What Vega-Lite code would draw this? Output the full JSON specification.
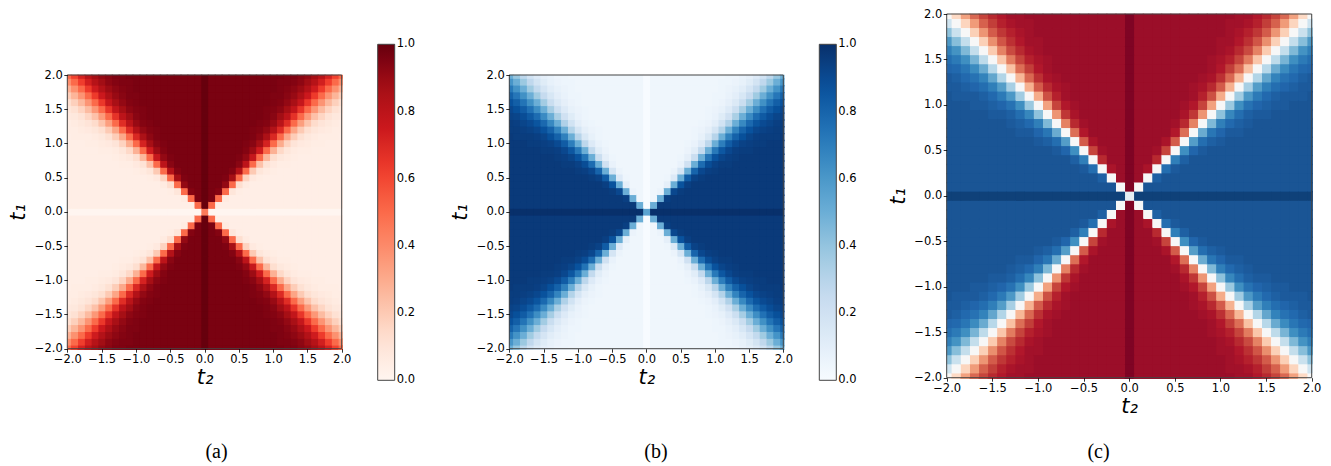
{
"$schema":"https://vega.github.io/schema/vega-lite/v6.json",
"width":1331,"height":466,"autosize":{"type":"none"},"padding":0,"background":"white",
"config":{"view":{"stroke":null},
"axis":{"grid":false,"domain":false,"labelFont":"DejaVu Sans","labelFontSize":11.5,"labelColor":"#000","tickColor":"#000","tickSize":3.5,"tickWidth":0.8,"labelPadding":1.5,"labelFlush":false,"labelOverlap":false,"labelBound":false,"titleFont":"DejaVu Sans","titleFontSize":21,"titleFontStyle":"italic","titleFontWeight":"normal","titleColor":"#000"},
"legend":{"labelFont":"DejaVu Sans","labelFontSize":11.5,"labelColor":"#000","gradientLength":336,"gradientThickness":17,"gradientStrokeColor":"#444","gradientStrokeWidth":1,"labelOffset":5,"padding":0,"labelOverlap":false}},
"data":{"values":[
{"x":-2,"y":2,"a":0.5,"b":0.5},{"x":-1.9,"y":2,"a":0.61,"b":0.39},{"x":-1.8,"y":2,"a":0.72,"b":0.28},{"x":-1.7,"y":2,"a":0.81,"b":0.19},{"x":-1.6,"y":2,"a":0.87,"b":0.13},{"x":-1.5,"y":2,"a":0.91,"b":0.09},{"x":-1.4,"y":2,"a":0.93,"b":0.07},{"x":-1.3,"y":2,"a":0.95,"b":0.05},{"x":-1.2,"y":2,"a":0.95,"b":0.05},{"x":-1.1,"y":2,"a":0.96,"b":0.04},{"x":-1,"y":2,"a":0.96,"b":0.04},{"x":-0.9,"y":2,"a":0.96,"b":0.04},{"x":-0.8,"y":2,"a":0.96,"b":0.04},{"x":-0.7,"y":2,"a":0.96,"b":0.04},{"x":-0.6,"y":2,"a":0.96,"b":0.04},{"x":-0.5,"y":2,"a":0.96,"b":0.04},{"x":-0.4,"y":2,"a":0.96,"b":0.04},{"x":-0.3,"y":2,"a":0.96,"b":0.04},{"x":-0.2,"y":2,"a":0.96,"b":0.04},{"x":-0.1,"y":2,"a":0.96,"b":0.04},{"x":0,"y":2,"a":1,"b":0},{"x":0.1,"y":2,"a":0.96,"b":0.04},{"x":0.2,"y":2,"a":0.96,"b":0.04},{"x":0.3,"y":2,"a":0.96,"b":0.04},{"x":0.4,"y":2,"a":0.96,"b":0.04},{"x":0.5,"y":2,"a":0.96,"b":0.04},{"x":0.6,"y":2,"a":0.96,"b":0.04},{"x":0.7,"y":2,"a":0.96,"b":0.04},{"x":0.8,"y":2,"a":0.96,"b":0.04},{"x":0.9,"y":2,"a":0.96,"b":0.04},{"x":1,"y":2,"a":0.96,"b":0.04},{"x":1.1,"y":2,"a":0.96,"b":0.04},{"x":1.2,"y":2,"a":0.95,"b":0.05},{"x":1.3,"y":2,"a":0.95,"b":0.05},{"x":1.4,"y":2,"a":0.93,"b":0.07},{"x":1.5,"y":2,"a":0.91,"b":0.09},{"x":1.6,"y":2,"a":0.87,"b":0.13},{"x":1.7,"y":2,"a":0.81,"b":0.19},{"x":1.8,"y":2,"a":0.72,"b":0.28},{"x":1.9,"y":2,"a":0.61,"b":0.39},{"x":2,"y":2,"a":0.5,"b":0.5},
{"x":-2,"y":1.9,"a":0.39,"b":0.61},{"x":-1.9,"y":1.9,"a":0.5,"b":0.5},{"x":-1.8,"y":1.9,"a":0.62,"b":0.38},{"x":-1.7,"y":1.9,"a":0.73,"b":0.27},{"x":-1.6,"y":1.9,"a":0.82,"b":0.18},{"x":-1.5,"y":1.9,"a":0.88,"b":0.12},{"x":-1.4,"y":1.9,"a":0.92,"b":0.08},{"x":-1.3,"y":1.9,"a":0.94,"b":0.06},{"x":-1.2,"y":1.9,"a":0.95,"b":0.05},{"x":-1.1,"y":1.9,"a":0.95,"b":0.05},{"x":-1,"y":1.9,"a":0.96,"b":0.04},{"x":-0.9,"y":1.9,"a":0.96,"b":0.04},{"x":-0.8,"y":1.9,"a":0.96,"b":0.04},{"x":-0.7,"y":1.9,"a":0.96,"b":0.04},{"x":-0.6,"y":1.9,"a":0.96,"b":0.04},{"x":-0.5,"y":1.9,"a":0.96,"b":0.04},{"x":-0.4,"y":1.9,"a":0.96,"b":0.04},{"x":-0.3,"y":1.9,"a":0.96,"b":0.04},{"x":-0.2,"y":1.9,"a":0.96,"b":0.04},{"x":-0.1,"y":1.9,"a":0.96,"b":0.04},{"x":0,"y":1.9,"a":1,"b":0},{"x":0.1,"y":1.9,"a":0.96,"b":0.04},{"x":0.2,"y":1.9,"a":0.96,"b":0.04},{"x":0.3,"y":1.9,"a":0.96,"b":0.04},{"x":0.4,"y":1.9,"a":0.96,"b":0.04},{"x":0.5,"y":1.9,"a":0.96,"b":0.04},{"x":0.6,"y":1.9,"a":0.96,"b":0.04},{"x":0.7,"y":1.9,"a":0.96,"b":0.04},{"x":0.8,"y":1.9,"a":0.96,"b":0.04},{"x":0.9,"y":1.9,"a":0.96,"b":0.04},{"x":1,"y":1.9,"a":0.96,"b":0.04},{"x":1.1,"y":1.9,"a":0.95,"b":0.05},{"x":1.2,"y":1.9,"a":0.95,"b":0.05},{"x":1.3,"y":1.9,"a":0.94,"b":0.06},{"x":1.4,"y":1.9,"a":0.92,"b":0.08},{"x":1.5,"y":1.9,"a":0.88,"b":0.12},{"x":1.6,"y":1.9,"a":0.82,"b":0.18},{"x":1.7,"y":1.9,"a":0.73,"b":0.27},{"x":1.8,"y":1.9,"a":0.62,"b":0.38},{"x":1.9,"y":1.9,"a":0.5,"b":0.5},{"x":2,"y":1.9,"a":0.39,"b":0.61},
{"x":-2,"y":1.8,"a":0.28,"b":0.72},{"x":-1.9,"y":1.8,"a":0.38,"b":0.62},{"x":-1.8,"y":1.8,"a":0.5,"b":0.5},{"x":-1.7,"y":1.8,"a":0.63,"b":0.37},{"x":-1.6,"y":1.8,"a":0.74,"b":0.26},{"x":-1.5,"y":1.8,"a":0.83,"b":0.17},{"x":-1.4,"y":1.8,"a":0.89,"b":0.11},{"x":-1.3,"y":1.8,"a":0.92,"b":0.08},{"x":-1.2,"y":1.8,"a":0.94,"b":0.06},{"x":-1.1,"y":1.8,"a":0.95,"b":0.05},{"x":-1,"y":1.8,"a":0.96,"b":0.04},{"x":-0.9,"y":1.8,"a":0.96,"b":0.04},{"x":-0.8,"y":1.8,"a":0.96,"b":0.04},{"x":-0.7,"y":1.8,"a":0.96,"b":0.04},{"x":-0.6,"y":1.8,"a":0.96,"b":0.04},{"x":-0.5,"y":1.8,"a":0.96,"b":0.04},{"x":-0.4,"y":1.8,"a":0.96,"b":0.04},{"x":-0.3,"y":1.8,"a":0.96,"b":0.04},{"x":-0.2,"y":1.8,"a":0.96,"b":0.04},{"x":-0.1,"y":1.8,"a":0.96,"b":0.04},{"x":0,"y":1.8,"a":1,"b":0},{"x":0.1,"y":1.8,"a":0.96,"b":0.04},{"x":0.2,"y":1.8,"a":0.96,"b":0.04},{"x":0.3,"y":1.8,"a":0.96,"b":0.04},{"x":0.4,"y":1.8,"a":0.96,"b":0.04},{"x":0.5,"y":1.8,"a":0.96,"b":0.04},{"x":0.6,"y":1.8,"a":0.96,"b":0.04},{"x":0.7,"y":1.8,"a":0.96,"b":0.04},{"x":0.8,"y":1.8,"a":0.96,"b":0.04},{"x":0.9,"y":1.8,"a":0.96,"b":0.04},{"x":1,"y":1.8,"a":0.96,"b":0.04},{"x":1.1,"y":1.8,"a":0.95,"b":0.05},{"x":1.2,"y":1.8,"a":0.94,"b":0.06},{"x":1.3,"y":1.8,"a":0.92,"b":0.08},{"x":1.4,"y":1.8,"a":0.89,"b":0.11},{"x":1.5,"y":1.8,"a":0.83,"b":0.17},{"x":1.6,"y":1.8,"a":0.74,"b":0.26},{"x":1.7,"y":1.8,"a":0.63,"b":0.37},{"x":1.8,"y":1.8,"a":0.5,"b":0.5},{"x":1.9,"y":1.8,"a":0.38,"b":0.62},{"x":2,"y":1.8,"a":0.28,"b":0.72},
{"x":-2,"y":1.7,"a":0.19,"b":0.81},{"x":-1.9,"y":1.7,"a":0.27,"b":0.73},{"x":-1.8,"y":1.7,"a":0.37,"b":0.63},{"x":-1.7,"y":1.7,"a":0.5,"b":0.5},{"x":-1.6,"y":1.7,"a":0.63,"b":0.37},{"x":-1.5,"y":1.7,"a":0.75,"b":0.25},{"x":-1.4,"y":1.7,"a":0.84,"b":0.16},{"x":-1.3,"y":1.7,"a":0.9,"b":0.1},{"x":-1.2,"y":1.7,"a":0.93,"b":0.07},{"x":-1.1,"y":1.7,"a":0.95,"b":0.05},{"x":-1,"y":1.7,"a":0.95,"b":0.05},{"x":-0.9,"y":1.7,"a":0.96,"b":0.04},{"x":-0.8,"y":1.7,"a":0.96,"b":0.04},{"x":-0.7,"y":1.7,"a":0.96,"b":0.04},{"x":-0.6,"y":1.7,"a":0.96,"b":0.04},{"x":-0.5,"y":1.7,"a":0.96,"b":0.04},{"x":-0.4,"y":1.7,"a":0.96,"b":0.04},{"x":-0.3,"y":1.7,"a":0.96,"b":0.04},{"x":-0.2,"y":1.7,"a":0.96,"b":0.04},{"x":-0.1,"y":1.7,"a":0.96,"b":0.04},{"x":0,"y":1.7,"a":1,"b":0},{"x":0.1,"y":1.7,"a":0.96,"b":0.04},{"x":0.2,"y":1.7,"a":0.96,"b":0.04},{"x":0.3,"y":1.7,"a":0.96,"b":0.04},{"x":0.4,"y":1.7,"a":0.96,"b":0.04},{"x":0.5,"y":1.7,"a":0.96,"b":0.04},{"x":0.6,"y":1.7,"a":0.96,"b":0.04},{"x":0.7,"y":1.7,"a":0.96,"b":0.04},{"x":0.8,"y":1.7,"a":0.96,"b":0.04},{"x":0.9,"y":1.7,"a":0.96,"b":0.04},{"x":1,"y":1.7,"a":0.95,"b":0.05},{"x":1.1,"y":1.7,"a":0.95,"b":0.05},{"x":1.2,"y":1.7,"a":0.93,"b":0.07},{"x":1.3,"y":1.7,"a":0.9,"b":0.1},{"x":1.4,"y":1.7,"a":0.84,"b":0.16},{"x":1.5,"y":1.7,"a":0.75,"b":0.25},{"x":1.6,"y":1.7,"a":0.63,"b":0.37},{"x":1.7,"y":1.7,"a":0.5,"b":0.5},{"x":1.8,"y":1.7,"a":0.37,"b":0.63},{"x":1.9,"y":1.7,"a":0.27,"b":0.73},{"x":2,"y":1.7,"a":0.19,"b":0.81},
{"x":-2,"y":1.6,"a":0.13,"b":0.87},{"x":-1.9,"y":1.6,"a":0.18,"b":0.82},{"x":-1.8,"y":1.6,"a":0.26,"b":0.74},{"x":-1.7,"y":1.6,"a":0.37,"b":0.63},{"x":-1.6,"y":1.6,"a":0.5,"b":0.5},{"x":-1.5,"y":1.6,"a":0.64,"b":0.36},{"x":-1.4,"y":1.6,"a":0.77,"b":0.23},{"x":-1.3,"y":1.6,"a":0.86,"b":0.14},{"x":-1.2,"y":1.6,"a":0.91,"b":0.09},{"x":-1.1,"y":1.6,"a":0.94,"b":0.06},{"x":-1,"y":1.6,"a":0.95,"b":0.05},{"x":-0.9,"y":1.6,"a":0.96,"b":0.04},{"x":-0.8,"y":1.6,"a":0.96,"b":0.04},{"x":-0.7,"y":1.6,"a":0.96,"b":0.04},{"x":-0.6,"y":1.6,"a":0.96,"b":0.04},{"x":-0.5,"y":1.6,"a":0.96,"b":0.04},{"x":-0.4,"y":1.6,"a":0.96,"b":0.04},{"x":-0.3,"y":1.6,"a":0.96,"b":0.04},{"x":-0.2,"y":1.6,"a":0.96,"b":0.04},{"x":-0.1,"y":1.6,"a":0.96,"b":0.04},{"x":0,"y":1.6,"a":1,"b":0},{"x":0.1,"y":1.6,"a":0.96,"b":0.04},{"x":0.2,"y":1.6,"a":0.96,"b":0.04},{"x":0.3,"y":1.6,"a":0.96,"b":0.04},{"x":0.4,"y":1.6,"a":0.96,"b":0.04},{"x":0.5,"y":1.6,"a":0.96,"b":0.04},{"x":0.6,"y":1.6,"a":0.96,"b":0.04},{"x":0.7,"y":1.6,"a":0.96,"b":0.04},{"x":0.8,"y":1.6,"a":0.96,"b":0.04},{"x":0.9,"y":1.6,"a":0.96,"b":0.04},{"x":1,"y":1.6,"a":0.95,"b":0.05},{"x":1.1,"y":1.6,"a":0.94,"b":0.06},{"x":1.2,"y":1.6,"a":0.91,"b":0.09},{"x":1.3,"y":1.6,"a":0.86,"b":0.14},{"x":1.4,"y":1.6,"a":0.77,"b":0.23},{"x":1.5,"y":1.6,"a":0.64,"b":0.36},{"x":1.6,"y":1.6,"a":0.5,"b":0.5},{"x":1.7,"y":1.6,"a":0.37,"b":0.63},{"x":1.8,"y":1.6,"a":0.26,"b":0.74},{"x":1.9,"y":1.6,"a":0.18,"b":0.82},{"x":2,"y":1.6,"a":0.13,"b":0.87},
{"x":-2,"y":1.5,"a":0.09,"b":0.91},{"x":-1.9,"y":1.5,"a":0.12,"b":0.88},{"x":-1.8,"y":1.5,"a":0.17,"b":0.83},{"x":-1.7,"y":1.5,"a":0.25,"b":0.75},{"x":-1.6,"y":1.5,"a":0.36,"b":0.64},{"x":-1.5,"y":1.5,"a":0.5,"b":0.5},{"x":-1.4,"y":1.5,"a":0.65,"b":0.35},{"x":-1.3,"y":1.5,"a":0.78,"b":0.22},{"x":-1.2,"y":1.5,"a":0.87,"b":0.13},{"x":-1.1,"y":1.5,"a":0.92,"b":0.08},{"x":-1,"y":1.5,"a":0.94,"b":0.06},{"x":-0.9,"y":1.5,"a":0.95,"b":0.05},{"x":-0.8,"y":1.5,"a":0.96,"b":0.04},{"x":-0.7,"y":1.5,"a":0.96,"b":0.04},{"x":-0.6,"y":1.5,"a":0.96,"b":0.04},{"x":-0.5,"y":1.5,"a":0.96,"b":0.04},{"x":-0.4,"y":1.5,"a":0.96,"b":0.04},{"x":-0.3,"y":1.5,"a":0.96,"b":0.04},{"x":-0.2,"y":1.5,"a":0.96,"b":0.04},{"x":-0.1,"y":1.5,"a":0.96,"b":0.04},{"x":0,"y":1.5,"a":1,"b":0},{"x":0.1,"y":1.5,"a":0.96,"b":0.04},{"x":0.2,"y":1.5,"a":0.96,"b":0.04},{"x":0.3,"y":1.5,"a":0.96,"b":0.04},{"x":0.4,"y":1.5,"a":0.96,"b":0.04},{"x":0.5,"y":1.5,"a":0.96,"b":0.04},{"x":0.6,"y":1.5,"a":0.96,"b":0.04},{"x":0.7,"y":1.5,"a":0.96,"b":0.04},{"x":0.8,"y":1.5,"a":0.96,"b":0.04},{"x":0.9,"y":1.5,"a":0.95,"b":0.05},{"x":1,"y":1.5,"a":0.94,"b":0.06},{"x":1.1,"y":1.5,"a":0.92,"b":0.08},{"x":1.2,"y":1.5,"a":0.87,"b":0.13},{"x":1.3,"y":1.5,"a":0.78,"b":0.22},{"x":1.4,"y":1.5,"a":0.65,"b":0.35},{"x":1.5,"y":1.5,"a":0.5,"b":0.5},{"x":1.6,"y":1.5,"a":0.36,"b":0.64},{"x":1.7,"y":1.5,"a":0.25,"b":0.75},{"x":1.8,"y":1.5,"a":0.17,"b":0.83},{"x":1.9,"y":1.5,"a":0.12,"b":0.88},{"x":2,"y":1.5,"a":0.09,"b":0.91},
{"x":-2,"y":1.4,"a":0.07,"b":0.93},{"x":-1.9,"y":1.4,"a":0.08,"b":0.92},{"x":-1.8,"y":1.4,"a":0.11,"b":0.89},{"x":-1.7,"y":1.4,"a":0.16,"b":0.84},{"x":-1.6,"y":1.4,"a":0.23,"b":0.77},{"x":-1.5,"y":1.4,"a":0.35,"b":0.65},{"x":-1.4,"y":1.4,"a":0.5,"b":0.5},{"x":-1.3,"y":1.4,"a":0.66,"b":0.34},{"x":-1.2,"y":1.4,"a":0.8,"b":0.2},{"x":-1.1,"y":1.4,"a":0.88,"b":0.12},{"x":-1,"y":1.4,"a":0.93,"b":0.07},{"x":-0.9,"y":1.4,"a":0.95,"b":0.05},{"x":-0.8,"y":1.4,"a":0.96,"b":0.04},{"x":-0.7,"y":1.4,"a":0.96,"b":0.04},{"x":-0.6,"y":1.4,"a":0.96,"b":0.04},{"x":-0.5,"y":1.4,"a":0.96,"b":0.04},{"x":-0.4,"y":1.4,"a":0.96,"b":0.04},{"x":-0.3,"y":1.4,"a":0.96,"b":0.04},{"x":-0.2,"y":1.4,"a":0.96,"b":0.04},{"x":-0.1,"y":1.4,"a":0.96,"b":0.04},{"x":0,"y":1.4,"a":1,"b":0},{"x":0.1,"y":1.4,"a":0.96,"b":0.04},{"x":0.2,"y":1.4,"a":0.96,"b":0.04},{"x":0.3,"y":1.4,"a":0.96,"b":0.04},{"x":0.4,"y":1.4,"a":0.96,"b":0.04},{"x":0.5,"y":1.4,"a":0.96,"b":0.04},{"x":0.6,"y":1.4,"a":0.96,"b":0.04},{"x":0.7,"y":1.4,"a":0.96,"b":0.04},{"x":0.8,"y":1.4,"a":0.96,"b":0.04},{"x":0.9,"y":1.4,"a":0.95,"b":0.05},{"x":1,"y":1.4,"a":0.93,"b":0.07},{"x":1.1,"y":1.4,"a":0.88,"b":0.12},{"x":1.2,"y":1.4,"a":0.8,"b":0.2},{"x":1.3,"y":1.4,"a":0.66,"b":0.34},{"x":1.4,"y":1.4,"a":0.5,"b":0.5},{"x":1.5,"y":1.4,"a":0.35,"b":0.65},{"x":1.6,"y":1.4,"a":0.23,"b":0.77},{"x":1.7,"y":1.4,"a":0.16,"b":0.84},{"x":1.8,"y":1.4,"a":0.11,"b":0.89},{"x":1.9,"y":1.4,"a":0.08,"b":0.92},{"x":2,"y":1.4,"a":0.07,"b":0.93},
{"x":-2,"y":1.3,"a":0.05,"b":0.95},{"x":-1.9,"y":1.3,"a":0.06,"b":0.94},{"x":-1.8,"y":1.3,"a":0.08,"b":0.92},{"x":-1.7,"y":1.3,"a":0.1,"b":0.9},{"x":-1.6,"y":1.3,"a":0.14,"b":0.86},{"x":-1.5,"y":1.3,"a":0.22,"b":0.78},{"x":-1.4,"y":1.3,"a":0.34,"b":0.66},{"x":-1.3,"y":1.3,"a":0.5,"b":0.5},{"x":-1.2,"y":1.3,"a":0.68,"b":0.32},{"x":-1.1,"y":1.3,"a":0.81,"b":0.19},{"x":-1,"y":1.3,"a":0.9,"b":0.1},{"x":-0.9,"y":1.3,"a":0.94,"b":0.06},{"x":-0.8,"y":1.3,"a":0.95,"b":0.05},{"x":-0.7,"y":1.3,"a":0.96,"b":0.04},{"x":-0.6,"y":1.3,"a":0.96,"b":0.04},{"x":-0.5,"y":1.3,"a":0.96,"b":0.04},{"x":-0.4,"y":1.3,"a":0.96,"b":0.04},{"x":-0.3,"y":1.3,"a":0.96,"b":0.04},{"x":-0.2,"y":1.3,"a":0.96,"b":0.04},{"x":-0.1,"y":1.3,"a":0.96,"b":0.04},{"x":0,"y":1.3,"a":1,"b":0},{"x":0.1,"y":1.3,"a":0.96,"b":0.04},{"x":0.2,"y":1.3,"a":0.96,"b":0.04},{"x":0.3,"y":1.3,"a":0.96,"b":0.04},{"x":0.4,"y":1.3,"a":0.96,"b":0.04},{"x":0.5,"y":1.3,"a":0.96,"b":0.04},{"x":0.6,"y":1.3,"a":0.96,"b":0.04},{"x":0.7,"y":1.3,"a":0.96,"b":0.04},{"x":0.8,"y":1.3,"a":0.95,"b":0.05},{"x":0.9,"y":1.3,"a":0.94,"b":0.06},{"x":1,"y":1.3,"a":0.9,"b":0.1},{"x":1.1,"y":1.3,"a":0.81,"b":0.19},{"x":1.2,"y":1.3,"a":0.68,"b":0.32},{"x":1.3,"y":1.3,"a":0.5,"b":0.5},{"x":1.4,"y":1.3,"a":0.34,"b":0.66},{"x":1.5,"y":1.3,"a":0.22,"b":0.78},{"x":1.6,"y":1.3,"a":0.14,"b":0.86},{"x":1.7,"y":1.3,"a":0.1,"b":0.9},{"x":1.8,"y":1.3,"a":0.08,"b":0.92},{"x":1.9,"y":1.3,"a":0.06,"b":0.94},{"x":2,"y":1.3,"a":0.05,"b":0.95},
{"x":-2,"y":1.2,"a":0.05,"b":0.95},{"x":-1.9,"y":1.2,"a":0.05,"b":0.95},{"x":-1.8,"y":1.2,"a":0.06,"b":0.94},{"x":-1.7,"y":1.2,"a":0.07,"b":0.93},{"x":-1.6,"y":1.2,"a":0.09,"b":0.91},{"x":-1.5,"y":1.2,"a":0.13,"b":0.87},{"x":-1.4,"y":1.2,"a":0.2,"b":0.8},{"x":-1.3,"y":1.2,"a":0.32,"b":0.68},{"x":-1.2,"y":1.2,"a":0.5,"b":0.5},{"x":-1.1,"y":1.2,"a":0.69,"b":0.31},{"x":-1,"y":1.2,"a":0.83,"b":0.17},{"x":-0.9,"y":1.2,"a":0.91,"b":0.09},{"x":-0.8,"y":1.2,"a":0.94,"b":0.06},{"x":-0.7,"y":1.2,"a":0.95,"b":0.05},{"x":-0.6,"y":1.2,"a":0.96,"b":0.04},{"x":-0.5,"y":1.2,"a":0.96,"b":0.04},{"x":-0.4,"y":1.2,"a":0.96,"b":0.04},{"x":-0.3,"y":1.2,"a":0.96,"b":0.04},{"x":-0.2,"y":1.2,"a":0.96,"b":0.04},{"x":-0.1,"y":1.2,"a":0.96,"b":0.04},{"x":0,"y":1.2,"a":1,"b":0},{"x":0.1,"y":1.2,"a":0.96,"b":0.04},{"x":0.2,"y":1.2,"a":0.96,"b":0.04},{"x":0.3,"y":1.2,"a":0.96,"b":0.04},{"x":0.4,"y":1.2,"a":0.96,"b":0.04},{"x":0.5,"y":1.2,"a":0.96,"b":0.04},{"x":0.6,"y":1.2,"a":0.96,"b":0.04},{"x":0.7,"y":1.2,"a":0.95,"b":0.05},{"x":0.8,"y":1.2,"a":0.94,"b":0.06},{"x":0.9,"y":1.2,"a":0.91,"b":0.09},{"x":1,"y":1.2,"a":0.83,"b":0.17},{"x":1.1,"y":1.2,"a":0.69,"b":0.31},{"x":1.2,"y":1.2,"a":0.5,"b":0.5},{"x":1.3,"y":1.2,"a":0.32,"b":0.68},{"x":1.4,"y":1.2,"a":0.2,"b":0.8},{"x":1.5,"y":1.2,"a":0.13,"b":0.87},{"x":1.6,"y":1.2,"a":0.09,"b":0.91},{"x":1.7,"y":1.2,"a":0.07,"b":0.93},{"x":1.8,"y":1.2,"a":0.06,"b":0.94},{"x":1.9,"y":1.2,"a":0.05,"b":0.95},{"x":2,"y":1.2,"a":0.05,"b":0.95},
{"x":-2,"y":1.1,"a":0.04,"b":0.96},{"x":-1.9,"y":1.1,"a":0.05,"b":0.95},{"x":-1.8,"y":1.1,"a":0.05,"b":0.95},{"x":-1.7,"y":1.1,"a":0.05,"b":0.95},{"x":-1.6,"y":1.1,"a":0.06,"b":0.94},{"x":-1.5,"y":1.1,"a":0.08,"b":0.92},{"x":-1.4,"y":1.1,"a":0.12,"b":0.88},{"x":-1.3,"y":1.1,"a":0.19,"b":0.81},{"x":-1.2,"y":1.1,"a":0.31,"b":0.69},{"x":-1.1,"y":1.1,"a":0.5,"b":0.5},{"x":-1,"y":1.1,"a":0.7,"b":0.3},{"x":-0.9,"y":1.1,"a":0.85,"b":0.15},{"x":-0.8,"y":1.1,"a":0.92,"b":0.08},{"x":-0.7,"y":1.1,"a":0.95,"b":0.05},{"x":-0.6,"y":1.1,"a":0.96,"b":0.04},{"x":-0.5,"y":1.1,"a":0.96,"b":0.04},{"x":-0.4,"y":1.1,"a":0.96,"b":0.04},{"x":-0.3,"y":1.1,"a":0.96,"b":0.04},{"x":-0.2,"y":1.1,"a":0.96,"b":0.04},{"x":-0.1,"y":1.1,"a":0.96,"b":0.04},{"x":0,"y":1.1,"a":1,"b":0},{"x":0.1,"y":1.1,"a":0.96,"b":0.04},{"x":0.2,"y":1.1,"a":0.96,"b":0.04},{"x":0.3,"y":1.1,"a":0.96,"b":0.04},{"x":0.4,"y":1.1,"a":0.96,"b":0.04},{"x":0.5,"y":1.1,"a":0.96,"b":0.04},{"x":0.6,"y":1.1,"a":0.96,"b":0.04},{"x":0.7,"y":1.1,"a":0.95,"b":0.05},{"x":0.8,"y":1.1,"a":0.92,"b":0.08},{"x":0.9,"y":1.1,"a":0.85,"b":0.15},{"x":1,"y":1.1,"a":0.7,"b":0.3},{"x":1.1,"y":1.1,"a":0.5,"b":0.5},{"x":1.2,"y":1.1,"a":0.31,"b":0.69},{"x":1.3,"y":1.1,"a":0.19,"b":0.81},{"x":1.4,"y":1.1,"a":0.12,"b":0.88},{"x":1.5,"y":1.1,"a":0.08,"b":0.92},{"x":1.6,"y":1.1,"a":0.06,"b":0.94},{"x":1.7,"y":1.1,"a":0.05,"b":0.95},{"x":1.8,"y":1.1,"a":0.05,"b":0.95},{"x":1.9,"y":1.1,"a":0.05,"b":0.95},{"x":2,"y":1.1,"a":0.04,"b":0.96},
{"x":-2,"y":1,"a":0.04,"b":0.96},{"x":-1.9,"y":1,"a":0.04,"b":0.96},{"x":-1.8,"y":1,"a":0.04,"b":0.96},{"x":-1.7,"y":1,"a":0.05,"b":0.95},{"x":-1.6,"y":1,"a":0.05,"b":0.95},{"x":-1.5,"y":1,"a":0.06,"b":0.94},{"x":-1.4,"y":1,"a":0.07,"b":0.93},{"x":-1.3,"y":1,"a":0.1,"b":0.9},{"x":-1.2,"y":1,"a":0.17,"b":0.83},{"x":-1.1,"y":1,"a":0.3,"b":0.7},{"x":-1,"y":1,"a":0.5,"b":0.5},{"x":-0.9,"y":1,"a":0.72,"b":0.28},{"x":-0.8,"y":1,"a":0.87,"b":0.13},{"x":-0.7,"y":1,"a":0.93,"b":0.07},{"x":-0.6,"y":1,"a":0.95,"b":0.05},{"x":-0.5,"y":1,"a":0.96,"b":0.04},{"x":-0.4,"y":1,"a":0.96,"b":0.04},{"x":-0.3,"y":1,"a":0.96,"b":0.04},{"x":-0.2,"y":1,"a":0.96,"b":0.04},{"x":-0.1,"y":1,"a":0.96,"b":0.04},{"x":0,"y":1,"a":1,"b":0},{"x":0.1,"y":1,"a":0.96,"b":0.04},{"x":0.2,"y":1,"a":0.96,"b":0.04},{"x":0.3,"y":1,"a":0.96,"b":0.04},{"x":0.4,"y":1,"a":0.96,"b":0.04},{"x":0.5,"y":1,"a":0.96,"b":0.04},{"x":0.6,"y":1,"a":0.95,"b":0.05},{"x":0.7,"y":1,"a":0.93,"b":0.07},{"x":0.8,"y":1,"a":0.87,"b":0.13},{"x":0.9,"y":1,"a":0.72,"b":0.28},{"x":1,"y":1,"a":0.5,"b":0.5},{"x":1.1,"y":1,"a":0.3,"b":0.7},{"x":1.2,"y":1,"a":0.17,"b":0.83},{"x":1.3,"y":1,"a":0.1,"b":0.9},{"x":1.4,"y":1,"a":0.07,"b":0.93},{"x":1.5,"y":1,"a":0.06,"b":0.94},{"x":1.6,"y":1,"a":0.05,"b":0.95},{"x":1.7,"y":1,"a":0.05,"b":0.95},{"x":1.8,"y":1,"a":0.04,"b":0.96},{"x":1.9,"y":1,"a":0.04,"b":0.96},{"x":2,"y":1,"a":0.04,"b":0.96},
{"x":-2,"y":0.9,"a":0.04,"b":0.96},{"x":-1.9,"y":0.9,"a":0.04,"b":0.96},{"x":-1.8,"y":0.9,"a":0.04,"b":0.96},{"x":-1.7,"y":0.9,"a":0.04,"b":0.96},{"x":-1.6,"y":0.9,"a":0.04,"b":0.96},{"x":-1.5,"y":0.9,"a":0.05,"b":0.95},{"x":-1.4,"y":0.9,"a":0.05,"b":0.95},{"x":-1.3,"y":0.9,"a":0.06,"b":0.94},{"x":-1.2,"y":0.9,"a":0.09,"b":0.91},{"x":-1.1,"y":0.9,"a":0.15,"b":0.85},{"x":-1,"y":0.9,"a":0.28,"b":0.72},{"x":-0.9,"y":0.9,"a":0.5,"b":0.5},{"x":-0.8,"y":0.9,"a":0.74,"b":0.26},{"x":-0.7,"y":0.9,"a":0.89,"b":0.11},{"x":-0.6,"y":0.9,"a":0.94,"b":0.06},{"x":-0.5,"y":0.9,"a":0.96,"b":0.04},{"x":-0.4,"y":0.9,"a":0.96,"b":0.04},{"x":-0.3,"y":0.9,"a":0.96,"b":0.04},{"x":-0.2,"y":0.9,"a":0.96,"b":0.04},{"x":-0.1,"y":0.9,"a":0.96,"b":0.04},{"x":0,"y":0.9,"a":1,"b":0},{"x":0.1,"y":0.9,"a":0.96,"b":0.04},{"x":0.2,"y":0.9,"a":0.96,"b":0.04},{"x":0.3,"y":0.9,"a":0.96,"b":0.04},{"x":0.4,"y":0.9,"a":0.96,"b":0.04},{"x":0.5,"y":0.9,"a":0.96,"b":0.04},{"x":0.6,"y":0.9,"a":0.94,"b":0.06},{"x":0.7,"y":0.9,"a":0.89,"b":0.11},{"x":0.8,"y":0.9,"a":0.74,"b":0.26},{"x":0.9,"y":0.9,"a":0.5,"b":0.5},{"x":1,"y":0.9,"a":0.28,"b":0.72},{"x":1.1,"y":0.9,"a":0.15,"b":0.85},{"x":1.2,"y":0.9,"a":0.09,"b":0.91},{"x":1.3,"y":0.9,"a":0.06,"b":0.94},{"x":1.4,"y":0.9,"a":0.05,"b":0.95},{"x":1.5,"y":0.9,"a":0.05,"b":0.95},{"x":1.6,"y":0.9,"a":0.04,"b":0.96},{"x":1.7,"y":0.9,"a":0.04,"b":0.96},{"x":1.8,"y":0.9,"a":0.04,"b":0.96},{"x":1.9,"y":0.9,"a":0.04,"b":0.96},{"x":2,"y":0.9,"a":0.04,"b":0.96},
{"x":-2,"y":0.8,"a":0.04,"b":0.96},{"x":-1.9,"y":0.8,"a":0.04,"b":0.96},{"x":-1.8,"y":0.8,"a":0.04,"b":0.96},{"x":-1.7,"y":0.8,"a":0.04,"b":0.96},{"x":-1.6,"y":0.8,"a":0.04,"b":0.96},{"x":-1.5,"y":0.8,"a":0.04,"b":0.96},{"x":-1.4,"y":0.8,"a":0.04,"b":0.96},{"x":-1.3,"y":0.8,"a":0.05,"b":0.95},{"x":-1.2,"y":0.8,"a":0.06,"b":0.94},{"x":-1.1,"y":0.8,"a":0.08,"b":0.92},{"x":-1,"y":0.8,"a":0.13,"b":0.87},{"x":-0.9,"y":0.8,"a":0.26,"b":0.74},{"x":-0.8,"y":0.8,"a":0.5,"b":0.5},{"x":-0.7,"y":0.8,"a":0.77,"b":0.23},{"x":-0.6,"y":0.8,"a":0.91,"b":0.09},{"x":-0.5,"y":0.8,"a":0.95,"b":0.05},{"x":-0.4,"y":0.8,"a":0.96,"b":0.04},{"x":-0.3,"y":0.8,"a":0.96,"b":0.04},{"x":-0.2,"y":0.8,"a":0.96,"b":0.04},{"x":-0.1,"y":0.8,"a":0.96,"b":0.04},{"x":0,"y":0.8,"a":1,"b":0},{"x":0.1,"y":0.8,"a":0.96,"b":0.04},{"x":0.2,"y":0.8,"a":0.96,"b":0.04},{"x":0.3,"y":0.8,"a":0.96,"b":0.04},{"x":0.4,"y":0.8,"a":0.96,"b":0.04},{"x":0.5,"y":0.8,"a":0.95,"b":0.05},{"x":0.6,"y":0.8,"a":0.91,"b":0.09},{"x":0.7,"y":0.8,"a":0.77,"b":0.23},{"x":0.8,"y":0.8,"a":0.5,"b":0.5},{"x":0.9,"y":0.8,"a":0.26,"b":0.74},{"x":1,"y":0.8,"a":0.13,"b":0.87},{"x":1.1,"y":0.8,"a":0.08,"b":0.92},{"x":1.2,"y":0.8,"a":0.06,"b":0.94},{"x":1.3,"y":0.8,"a":0.05,"b":0.95},{"x":1.4,"y":0.8,"a":0.04,"b":0.96},{"x":1.5,"y":0.8,"a":0.04,"b":0.96},{"x":1.6,"y":0.8,"a":0.04,"b":0.96},{"x":1.7,"y":0.8,"a":0.04,"b":0.96},{"x":1.8,"y":0.8,"a":0.04,"b":0.96},{"x":1.9,"y":0.8,"a":0.04,"b":0.96},{"x":2,"y":0.8,"a":0.04,"b":0.96},
{"x":-2,"y":0.7,"a":0.04,"b":0.96},{"x":-1.9,"y":0.7,"a":0.04,"b":0.96},{"x":-1.8,"y":0.7,"a":0.04,"b":0.96},{"x":-1.7,"y":0.7,"a":0.04,"b":0.96},{"x":-1.6,"y":0.7,"a":0.04,"b":0.96},{"x":-1.5,"y":0.7,"a":0.04,"b":0.96},{"x":-1.4,"y":0.7,"a":0.04,"b":0.96},{"x":-1.3,"y":0.7,"a":0.04,"b":0.96},{"x":-1.2,"y":0.7,"a":0.05,"b":0.95},{"x":-1.1,"y":0.7,"a":0.05,"b":0.95},{"x":-1,"y":0.7,"a":0.07,"b":0.93},{"x":-0.9,"y":0.7,"a":0.11,"b":0.89},{"x":-0.8,"y":0.7,"a":0.23,"b":0.77},{"x":-0.7,"y":0.7,"a":0.5,"b":0.5},{"x":-0.6,"y":0.7,"a":0.8,"b":0.2},{"x":-0.5,"y":0.7,"a":0.93,"b":0.07},{"x":-0.4,"y":0.7,"a":0.96,"b":0.04},{"x":-0.3,"y":0.7,"a":0.96,"b":0.04},{"x":-0.2,"y":0.7,"a":0.96,"b":0.04},{"x":-0.1,"y":0.7,"a":0.96,"b":0.04},{"x":0,"y":0.7,"a":1,"b":0},{"x":0.1,"y":0.7,"a":0.96,"b":0.04},{"x":0.2,"y":0.7,"a":0.96,"b":0.04},{"x":0.3,"y":0.7,"a":0.96,"b":0.04},{"x":0.4,"y":0.7,"a":0.96,"b":0.04},{"x":0.5,"y":0.7,"a":0.93,"b":0.07},{"x":0.6,"y":0.7,"a":0.8,"b":0.2},{"x":0.7,"y":0.7,"a":0.5,"b":0.5},{"x":0.8,"y":0.7,"a":0.23,"b":0.77},{"x":0.9,"y":0.7,"a":0.11,"b":0.89},{"x":1,"y":0.7,"a":0.07,"b":0.93},{"x":1.1,"y":0.7,"a":0.05,"b":0.95},{"x":1.2,"y":0.7,"a":0.05,"b":0.95},{"x":1.3,"y":0.7,"a":0.04,"b":0.96},{"x":1.4,"y":0.7,"a":0.04,"b":0.96},{"x":1.5,"y":0.7,"a":0.04,"b":0.96},{"x":1.6,"y":0.7,"a":0.04,"b":0.96},{"x":1.7,"y":0.7,"a":0.04,"b":0.96},{"x":1.8,"y":0.7,"a":0.04,"b":0.96},{"x":1.9,"y":0.7,"a":0.04,"b":0.96},{"x":2,"y":0.7,"a":0.04,"b":0.96},
{"x":-2,"y":0.6,"a":0.04,"b":0.96},{"x":-1.9,"y":0.6,"a":0.04,"b":0.96},{"x":-1.8,"y":0.6,"a":0.04,"b":0.96},{"x":-1.7,"y":0.6,"a":0.04,"b":0.96},{"x":-1.6,"y":0.6,"a":0.04,"b":0.96},{"x":-1.5,"y":0.6,"a":0.04,"b":0.96},{"x":-1.4,"y":0.6,"a":0.04,"b":0.96},{"x":-1.3,"y":0.6,"a":0.04,"b":0.96},{"x":-1.2,"y":0.6,"a":0.04,"b":0.96},{"x":-1.1,"y":0.6,"a":0.04,"b":0.96},{"x":-1,"y":0.6,"a":0.05,"b":0.95},{"x":-0.9,"y":0.6,"a":0.06,"b":0.94},{"x":-0.8,"y":0.6,"a":0.09,"b":0.91},{"x":-0.7,"y":0.6,"a":0.2,"b":0.8},{"x":-0.6,"y":0.6,"a":0.5,"b":0.5},{"x":-0.5,"y":0.6,"a":0.83,"b":0.17},{"x":-0.4,"y":0.6,"a":0.94,"b":0.06},{"x":-0.3,"y":0.6,"a":0.96,"b":0.04},{"x":-0.2,"y":0.6,"a":0.96,"b":0.04},{"x":-0.1,"y":0.6,"a":0.96,"b":0.04},{"x":0,"y":0.6,"a":1,"b":0},{"x":0.1,"y":0.6,"a":0.96,"b":0.04},{"x":0.2,"y":0.6,"a":0.96,"b":0.04},{"x":0.3,"y":0.6,"a":0.96,"b":0.04},{"x":0.4,"y":0.6,"a":0.94,"b":0.06},{"x":0.5,"y":0.6,"a":0.83,"b":0.17},{"x":0.6,"y":0.6,"a":0.5,"b":0.5},{"x":0.7,"y":0.6,"a":0.2,"b":0.8},{"x":0.8,"y":0.6,"a":0.09,"b":0.91},{"x":0.9,"y":0.6,"a":0.06,"b":0.94},{"x":1,"y":0.6,"a":0.05,"b":0.95},{"x":1.1,"y":0.6,"a":0.04,"b":0.96},{"x":1.2,"y":0.6,"a":0.04,"b":0.96},{"x":1.3,"y":0.6,"a":0.04,"b":0.96},{"x":1.4,"y":0.6,"a":0.04,"b":0.96},{"x":1.5,"y":0.6,"a":0.04,"b":0.96},{"x":1.6,"y":0.6,"a":0.04,"b":0.96},{"x":1.7,"y":0.6,"a":0.04,"b":0.96},{"x":1.8,"y":0.6,"a":0.04,"b":0.96},{"x":1.9,"y":0.6,"a":0.04,"b":0.96},{"x":2,"y":0.6,"a":0.04,"b":0.96},
{"x":-2,"y":0.5,"a":0.04,"b":0.96},{"x":-1.9,"y":0.5,"a":0.04,"b":0.96},{"x":-1.8,"y":0.5,"a":0.04,"b":0.96},{"x":-1.7,"y":0.5,"a":0.04,"b":0.96},{"x":-1.6,"y":0.5,"a":0.04,"b":0.96},{"x":-1.5,"y":0.5,"a":0.04,"b":0.96},{"x":-1.4,"y":0.5,"a":0.04,"b":0.96},{"x":-1.3,"y":0.5,"a":0.04,"b":0.96},{"x":-1.2,"y":0.5,"a":0.04,"b":0.96},{"x":-1.1,"y":0.5,"a":0.04,"b":0.96},{"x":-1,"y":0.5,"a":0.04,"b":0.96},{"x":-0.9,"y":0.5,"a":0.04,"b":0.96},{"x":-0.8,"y":0.5,"a":0.05,"b":0.95},{"x":-0.7,"y":0.5,"a":0.07,"b":0.93},{"x":-0.6,"y":0.5,"a":0.17,"b":0.83},{"x":-0.5,"y":0.5,"a":0.5,"b":0.5},{"x":-0.4,"y":0.5,"a":0.87,"b":0.13},{"x":-0.3,"y":0.5,"a":0.95,"b":0.05},{"x":-0.2,"y":0.5,"a":0.96,"b":0.04},{"x":-0.1,"y":0.5,"a":0.96,"b":0.04},{"x":0,"y":0.5,"a":1,"b":0},{"x":0.1,"y":0.5,"a":0.96,"b":0.04},{"x":0.2,"y":0.5,"a":0.96,"b":0.04},{"x":0.3,"y":0.5,"a":0.95,"b":0.05},{"x":0.4,"y":0.5,"a":0.87,"b":0.13},{"x":0.5,"y":0.5,"a":0.5,"b":0.5},{"x":0.6,"y":0.5,"a":0.17,"b":0.83},{"x":0.7,"y":0.5,"a":0.07,"b":0.93},{"x":0.8,"y":0.5,"a":0.05,"b":0.95},{"x":0.9,"y":0.5,"a":0.04,"b":0.96},{"x":1,"y":0.5,"a":0.04,"b":0.96},{"x":1.1,"y":0.5,"a":0.04,"b":0.96},{"x":1.2,"y":0.5,"a":0.04,"b":0.96},{"x":1.3,"y":0.5,"a":0.04,"b":0.96},{"x":1.4,"y":0.5,"a":0.04,"b":0.96},{"x":1.5,"y":0.5,"a":0.04,"b":0.96},{"x":1.6,"y":0.5,"a":0.04,"b":0.96},{"x":1.7,"y":0.5,"a":0.04,"b":0.96},{"x":1.8,"y":0.5,"a":0.04,"b":0.96},{"x":1.9,"y":0.5,"a":0.04,"b":0.96},{"x":2,"y":0.5,"a":0.04,"b":0.96},
{"x":-2,"y":0.4,"a":0.04,"b":0.96},{"x":-1.9,"y":0.4,"a":0.04,"b":0.96},{"x":-1.8,"y":0.4,"a":0.04,"b":0.96},{"x":-1.7,"y":0.4,"a":0.04,"b":0.96},{"x":-1.6,"y":0.4,"a":0.04,"b":0.96},{"x":-1.5,"y":0.4,"a":0.04,"b":0.96},{"x":-1.4,"y":0.4,"a":0.04,"b":0.96},{"x":-1.3,"y":0.4,"a":0.04,"b":0.96},{"x":-1.2,"y":0.4,"a":0.04,"b":0.96},{"x":-1.1,"y":0.4,"a":0.04,"b":0.96},{"x":-1,"y":0.4,"a":0.04,"b":0.96},{"x":-0.9,"y":0.4,"a":0.04,"b":0.96},{"x":-0.8,"y":0.4,"a":0.04,"b":0.96},{"x":-0.7,"y":0.4,"a":0.04,"b":0.96},{"x":-0.6,"y":0.4,"a":0.06,"b":0.94},{"x":-0.5,"y":0.4,"a":0.13,"b":0.87},{"x":-0.4,"y":0.4,"a":0.5,"b":0.5},{"x":-0.3,"y":0.4,"a":0.91,"b":0.09},{"x":-0.2,"y":0.4,"a":0.96,"b":0.04},{"x":-0.1,"y":0.4,"a":0.96,"b":0.04},{"x":0,"y":0.4,"a":1,"b":0},{"x":0.1,"y":0.4,"a":0.96,"b":0.04},{"x":0.2,"y":0.4,"a":0.96,"b":0.04},{"x":0.3,"y":0.4,"a":0.91,"b":0.09},{"x":0.4,"y":0.4,"a":0.5,"b":0.5},{"x":0.5,"y":0.4,"a":0.13,"b":0.87},{"x":0.6,"y":0.4,"a":0.06,"b":0.94},{"x":0.7,"y":0.4,"a":0.04,"b":0.96},{"x":0.8,"y":0.4,"a":0.04,"b":0.96},{"x":0.9,"y":0.4,"a":0.04,"b":0.96},{"x":1,"y":0.4,"a":0.04,"b":0.96},{"x":1.1,"y":0.4,"a":0.04,"b":0.96},{"x":1.2,"y":0.4,"a":0.04,"b":0.96},{"x":1.3,"y":0.4,"a":0.04,"b":0.96},{"x":1.4,"y":0.4,"a":0.04,"b":0.96},{"x":1.5,"y":0.4,"a":0.04,"b":0.96},{"x":1.6,"y":0.4,"a":0.04,"b":0.96},{"x":1.7,"y":0.4,"a":0.04,"b":0.96},{"x":1.8,"y":0.4,"a":0.04,"b":0.96},{"x":1.9,"y":0.4,"a":0.04,"b":0.96},{"x":2,"y":0.4,"a":0.04,"b":0.96},
{"x":-2,"y":0.3,"a":0.04,"b":0.96},{"x":-1.9,"y":0.3,"a":0.04,"b":0.96},{"x":-1.8,"y":0.3,"a":0.04,"b":0.96},{"x":-1.7,"y":0.3,"a":0.04,"b":0.96},{"x":-1.6,"y":0.3,"a":0.04,"b":0.96},{"x":-1.5,"y":0.3,"a":0.04,"b":0.96},{"x":-1.4,"y":0.3,"a":0.04,"b":0.96},{"x":-1.3,"y":0.3,"a":0.04,"b":0.96},{"x":-1.2,"y":0.3,"a":0.04,"b":0.96},{"x":-1.1,"y":0.3,"a":0.04,"b":0.96},{"x":-1,"y":0.3,"a":0.04,"b":0.96},{"x":-0.9,"y":0.3,"a":0.04,"b":0.96},{"x":-0.8,"y":0.3,"a":0.04,"b":0.96},{"x":-0.7,"y":0.3,"a":0.04,"b":0.96},{"x":-0.6,"y":0.3,"a":0.04,"b":0.96},{"x":-0.5,"y":0.3,"a":0.05,"b":0.95},{"x":-0.4,"y":0.3,"a":0.09,"b":0.91},{"x":-0.3,"y":0.3,"a":0.5,"b":0.5},{"x":-0.2,"y":0.3,"a":0.94,"b":0.06},{"x":-0.1,"y":0.3,"a":0.96,"b":0.04},{"x":0,"y":0.3,"a":1,"b":0},{"x":0.1,"y":0.3,"a":0.96,"b":0.04},{"x":0.2,"y":0.3,"a":0.94,"b":0.06},{"x":0.3,"y":0.3,"a":0.5,"b":0.5},{"x":0.4,"y":0.3,"a":0.09,"b":0.91},{"x":0.5,"y":0.3,"a":0.05,"b":0.95},{"x":0.6,"y":0.3,"a":0.04,"b":0.96},{"x":0.7,"y":0.3,"a":0.04,"b":0.96},{"x":0.8,"y":0.3,"a":0.04,"b":0.96},{"x":0.9,"y":0.3,"a":0.04,"b":0.96},{"x":1,"y":0.3,"a":0.04,"b":0.96},{"x":1.1,"y":0.3,"a":0.04,"b":0.96},{"x":1.2,"y":0.3,"a":0.04,"b":0.96},{"x":1.3,"y":0.3,"a":0.04,"b":0.96},{"x":1.4,"y":0.3,"a":0.04,"b":0.96},{"x":1.5,"y":0.3,"a":0.04,"b":0.96},{"x":1.6,"y":0.3,"a":0.04,"b":0.96},{"x":1.7,"y":0.3,"a":0.04,"b":0.96},{"x":1.8,"y":0.3,"a":0.04,"b":0.96},{"x":1.9,"y":0.3,"a":0.04,"b":0.96},{"x":2,"y":0.3,"a":0.04,"b":0.96},
{"x":-2,"y":0.2,"a":0.04,"b":0.96},{"x":-1.9,"y":0.2,"a":0.04,"b":0.96},{"x":-1.8,"y":0.2,"a":0.04,"b":0.96},{"x":-1.7,"y":0.2,"a":0.04,"b":0.96},{"x":-1.6,"y":0.2,"a":0.04,"b":0.96},{"x":-1.5,"y":0.2,"a":0.04,"b":0.96},{"x":-1.4,"y":0.2,"a":0.04,"b":0.96},{"x":-1.3,"y":0.2,"a":0.04,"b":0.96},{"x":-1.2,"y":0.2,"a":0.04,"b":0.96},{"x":-1.1,"y":0.2,"a":0.04,"b":0.96},{"x":-1,"y":0.2,"a":0.04,"b":0.96},{"x":-0.9,"y":0.2,"a":0.04,"b":0.96},{"x":-0.8,"y":0.2,"a":0.04,"b":0.96},{"x":-0.7,"y":0.2,"a":0.04,"b":0.96},{"x":-0.6,"y":0.2,"a":0.04,"b":0.96},{"x":-0.5,"y":0.2,"a":0.04,"b":0.96},{"x":-0.4,"y":0.2,"a":0.04,"b":0.96},{"x":-0.3,"y":0.2,"a":0.06,"b":0.94},{"x":-0.2,"y":0.2,"a":0.5,"b":0.5},{"x":-0.1,"y":0.2,"a":0.96,"b":0.04},{"x":0,"y":0.2,"a":1,"b":0},{"x":0.1,"y":0.2,"a":0.96,"b":0.04},{"x":0.2,"y":0.2,"a":0.5,"b":0.5},{"x":0.3,"y":0.2,"a":0.06,"b":0.94},{"x":0.4,"y":0.2,"a":0.04,"b":0.96},{"x":0.5,"y":0.2,"a":0.04,"b":0.96},{"x":0.6,"y":0.2,"a":0.04,"b":0.96},{"x":0.7,"y":0.2,"a":0.04,"b":0.96},{"x":0.8,"y":0.2,"a":0.04,"b":0.96},{"x":0.9,"y":0.2,"a":0.04,"b":0.96},{"x":1,"y":0.2,"a":0.04,"b":0.96},{"x":1.1,"y":0.2,"a":0.04,"b":0.96},{"x":1.2,"y":0.2,"a":0.04,"b":0.96},{"x":1.3,"y":0.2,"a":0.04,"b":0.96},{"x":1.4,"y":0.2,"a":0.04,"b":0.96},{"x":1.5,"y":0.2,"a":0.04,"b":0.96},{"x":1.6,"y":0.2,"a":0.04,"b":0.96},{"x":1.7,"y":0.2,"a":0.04,"b":0.96},{"x":1.8,"y":0.2,"a":0.04,"b":0.96},{"x":1.9,"y":0.2,"a":0.04,"b":0.96},{"x":2,"y":0.2,"a":0.04,"b":0.96},
{"x":-2,"y":0.1,"a":0.04,"b":0.96},{"x":-1.9,"y":0.1,"a":0.04,"b":0.96},{"x":-1.8,"y":0.1,"a":0.04,"b":0.96},{"x":-1.7,"y":0.1,"a":0.04,"b":0.96},{"x":-1.6,"y":0.1,"a":0.04,"b":0.96},{"x":-1.5,"y":0.1,"a":0.04,"b":0.96},{"x":-1.4,"y":0.1,"a":0.04,"b":0.96},{"x":-1.3,"y":0.1,"a":0.04,"b":0.96},{"x":-1.2,"y":0.1,"a":0.04,"b":0.96},{"x":-1.1,"y":0.1,"a":0.04,"b":0.96},{"x":-1,"y":0.1,"a":0.04,"b":0.96},{"x":-0.9,"y":0.1,"a":0.04,"b":0.96},{"x":-0.8,"y":0.1,"a":0.04,"b":0.96},{"x":-0.7,"y":0.1,"a":0.04,"b":0.96},{"x":-0.6,"y":0.1,"a":0.04,"b":0.96},{"x":-0.5,"y":0.1,"a":0.04,"b":0.96},{"x":-0.4,"y":0.1,"a":0.04,"b":0.96},{"x":-0.3,"y":0.1,"a":0.04,"b":0.96},{"x":-0.2,"y":0.1,"a":0.04,"b":0.96},{"x":-0.1,"y":0.1,"a":0.5,"b":0.5},{"x":0,"y":0.1,"a":1,"b":0},{"x":0.1,"y":0.1,"a":0.5,"b":0.5},{"x":0.2,"y":0.1,"a":0.04,"b":0.96},{"x":0.3,"y":0.1,"a":0.04,"b":0.96},{"x":0.4,"y":0.1,"a":0.04,"b":0.96},{"x":0.5,"y":0.1,"a":0.04,"b":0.96},{"x":0.6,"y":0.1,"a":0.04,"b":0.96},{"x":0.7,"y":0.1,"a":0.04,"b":0.96},{"x":0.8,"y":0.1,"a":0.04,"b":0.96},{"x":0.9,"y":0.1,"a":0.04,"b":0.96},{"x":1,"y":0.1,"a":0.04,"b":0.96},{"x":1.1,"y":0.1,"a":0.04,"b":0.96},{"x":1.2,"y":0.1,"a":0.04,"b":0.96},{"x":1.3,"y":0.1,"a":0.04,"b":0.96},{"x":1.4,"y":0.1,"a":0.04,"b":0.96},{"x":1.5,"y":0.1,"a":0.04,"b":0.96},{"x":1.6,"y":0.1,"a":0.04,"b":0.96},{"x":1.7,"y":0.1,"a":0.04,"b":0.96},{"x":1.8,"y":0.1,"a":0.04,"b":0.96},{"x":1.9,"y":0.1,"a":0.04,"b":0.96},{"x":2,"y":0.1,"a":0.04,"b":0.96},
{"x":-2,"y":0,"a":0,"b":1},{"x":-1.9,"y":0,"a":0,"b":1},{"x":-1.8,"y":0,"a":0,"b":1},{"x":-1.7,"y":0,"a":0,"b":1},{"x":-1.6,"y":0,"a":0,"b":1},{"x":-1.5,"y":0,"a":0,"b":1},{"x":-1.4,"y":0,"a":0,"b":1},{"x":-1.3,"y":0,"a":0,"b":1},{"x":-1.2,"y":0,"a":0,"b":1},{"x":-1.1,"y":0,"a":0,"b":1},{"x":-1,"y":0,"a":0,"b":1},{"x":-0.9,"y":0,"a":0,"b":1},{"x":-0.8,"y":0,"a":0,"b":1},{"x":-0.7,"y":0,"a":0,"b":1},{"x":-0.6,"y":0,"a":0,"b":1},{"x":-0.5,"y":0,"a":0,"b":1},{"x":-0.4,"y":0,"a":0,"b":1},{"x":-0.3,"y":0,"a":0,"b":1},{"x":-0.2,"y":0,"a":0,"b":1},{"x":-0.1,"y":0,"a":0,"b":1},{"x":0,"y":0,"a":0.45,"b":0.55},{"x":0.1,"y":0,"a":0,"b":1},{"x":0.2,"y":0,"a":0,"b":1},{"x":0.3,"y":0,"a":0,"b":1},{"x":0.4,"y":0,"a":0,"b":1},{"x":0.5,"y":0,"a":0,"b":1},{"x":0.6,"y":0,"a":0,"b":1},{"x":0.7,"y":0,"a":0,"b":1},{"x":0.8,"y":0,"a":0,"b":1},{"x":0.9,"y":0,"a":0,"b":1},{"x":1,"y":0,"a":0,"b":1},{"x":1.1,"y":0,"a":0,"b":1},{"x":1.2,"y":0,"a":0,"b":1},{"x":1.3,"y":0,"a":0,"b":1},{"x":1.4,"y":0,"a":0,"b":1},{"x":1.5,"y":0,"a":0,"b":1},{"x":1.6,"y":0,"a":0,"b":1},{"x":1.7,"y":0,"a":0,"b":1},{"x":1.8,"y":0,"a":0,"b":1},{"x":1.9,"y":0,"a":0,"b":1},{"x":2,"y":0,"a":0,"b":1},
{"x":-2,"y":-0.1,"a":0.04,"b":0.96},{"x":-1.9,"y":-0.1,"a":0.04,"b":0.96},{"x":-1.8,"y":-0.1,"a":0.04,"b":0.96},{"x":-1.7,"y":-0.1,"a":0.04,"b":0.96},{"x":-1.6,"y":-0.1,"a":0.04,"b":0.96},{"x":-1.5,"y":-0.1,"a":0.04,"b":0.96},{"x":-1.4,"y":-0.1,"a":0.04,"b":0.96},{"x":-1.3,"y":-0.1,"a":0.04,"b":0.96},{"x":-1.2,"y":-0.1,"a":0.04,"b":0.96},{"x":-1.1,"y":-0.1,"a":0.04,"b":0.96},{"x":-1,"y":-0.1,"a":0.04,"b":0.96},{"x":-0.9,"y":-0.1,"a":0.04,"b":0.96},{"x":-0.8,"y":-0.1,"a":0.04,"b":0.96},{"x":-0.7,"y":-0.1,"a":0.04,"b":0.96},{"x":-0.6,"y":-0.1,"a":0.04,"b":0.96},{"x":-0.5,"y":-0.1,"a":0.04,"b":0.96},{"x":-0.4,"y":-0.1,"a":0.04,"b":0.96},{"x":-0.3,"y":-0.1,"a":0.04,"b":0.96},{"x":-0.2,"y":-0.1,"a":0.04,"b":0.96},{"x":-0.1,"y":-0.1,"a":0.5,"b":0.5},{"x":0,"y":-0.1,"a":1,"b":0},{"x":0.1,"y":-0.1,"a":0.5,"b":0.5},{"x":0.2,"y":-0.1,"a":0.04,"b":0.96},{"x":0.3,"y":-0.1,"a":0.04,"b":0.96},{"x":0.4,"y":-0.1,"a":0.04,"b":0.96},{"x":0.5,"y":-0.1,"a":0.04,"b":0.96},{"x":0.6,"y":-0.1,"a":0.04,"b":0.96},{"x":0.7,"y":-0.1,"a":0.04,"b":0.96},{"x":0.8,"y":-0.1,"a":0.04,"b":0.96},{"x":0.9,"y":-0.1,"a":0.04,"b":0.96},{"x":1,"y":-0.1,"a":0.04,"b":0.96},{"x":1.1,"y":-0.1,"a":0.04,"b":0.96},{"x":1.2,"y":-0.1,"a":0.04,"b":0.96},{"x":1.3,"y":-0.1,"a":0.04,"b":0.96},{"x":1.4,"y":-0.1,"a":0.04,"b":0.96},{"x":1.5,"y":-0.1,"a":0.04,"b":0.96},{"x":1.6,"y":-0.1,"a":0.04,"b":0.96},{"x":1.7,"y":-0.1,"a":0.04,"b":0.96},{"x":1.8,"y":-0.1,"a":0.04,"b":0.96},{"x":1.9,"y":-0.1,"a":0.04,"b":0.96},{"x":2,"y":-0.1,"a":0.04,"b":0.96},
{"x":-2,"y":-0.2,"a":0.04,"b":0.96},{"x":-1.9,"y":-0.2,"a":0.04,"b":0.96},{"x":-1.8,"y":-0.2,"a":0.04,"b":0.96},{"x":-1.7,"y":-0.2,"a":0.04,"b":0.96},{"x":-1.6,"y":-0.2,"a":0.04,"b":0.96},{"x":-1.5,"y":-0.2,"a":0.04,"b":0.96},{"x":-1.4,"y":-0.2,"a":0.04,"b":0.96},{"x":-1.3,"y":-0.2,"a":0.04,"b":0.96},{"x":-1.2,"y":-0.2,"a":0.04,"b":0.96},{"x":-1.1,"y":-0.2,"a":0.04,"b":0.96},{"x":-1,"y":-0.2,"a":0.04,"b":0.96},{"x":-0.9,"y":-0.2,"a":0.04,"b":0.96},{"x":-0.8,"y":-0.2,"a":0.04,"b":0.96},{"x":-0.7,"y":-0.2,"a":0.04,"b":0.96},{"x":-0.6,"y":-0.2,"a":0.04,"b":0.96},{"x":-0.5,"y":-0.2,"a":0.04,"b":0.96},{"x":-0.4,"y":-0.2,"a":0.04,"b":0.96},{"x":-0.3,"y":-0.2,"a":0.06,"b":0.94},{"x":-0.2,"y":-0.2,"a":0.5,"b":0.5},{"x":-0.1,"y":-0.2,"a":0.96,"b":0.04},{"x":0,"y":-0.2,"a":1,"b":0},{"x":0.1,"y":-0.2,"a":0.96,"b":0.04},{"x":0.2,"y":-0.2,"a":0.5,"b":0.5},{"x":0.3,"y":-0.2,"a":0.06,"b":0.94},{"x":0.4,"y":-0.2,"a":0.04,"b":0.96},{"x":0.5,"y":-0.2,"a":0.04,"b":0.96},{"x":0.6,"y":-0.2,"a":0.04,"b":0.96},{"x":0.7,"y":-0.2,"a":0.04,"b":0.96},{"x":0.8,"y":-0.2,"a":0.04,"b":0.96},{"x":0.9,"y":-0.2,"a":0.04,"b":0.96},{"x":1,"y":-0.2,"a":0.04,"b":0.96},{"x":1.1,"y":-0.2,"a":0.04,"b":0.96},{"x":1.2,"y":-0.2,"a":0.04,"b":0.96},{"x":1.3,"y":-0.2,"a":0.04,"b":0.96},{"x":1.4,"y":-0.2,"a":0.04,"b":0.96},{"x":1.5,"y":-0.2,"a":0.04,"b":0.96},{"x":1.6,"y":-0.2,"a":0.04,"b":0.96},{"x":1.7,"y":-0.2,"a":0.04,"b":0.96},{"x":1.8,"y":-0.2,"a":0.04,"b":0.96},{"x":1.9,"y":-0.2,"a":0.04,"b":0.96},{"x":2,"y":-0.2,"a":0.04,"b":0.96},
{"x":-2,"y":-0.3,"a":0.04,"b":0.96},{"x":-1.9,"y":-0.3,"a":0.04,"b":0.96},{"x":-1.8,"y":-0.3,"a":0.04,"b":0.96},{"x":-1.7,"y":-0.3,"a":0.04,"b":0.96},{"x":-1.6,"y":-0.3,"a":0.04,"b":0.96},{"x":-1.5,"y":-0.3,"a":0.04,"b":0.96},{"x":-1.4,"y":-0.3,"a":0.04,"b":0.96},{"x":-1.3,"y":-0.3,"a":0.04,"b":0.96},{"x":-1.2,"y":-0.3,"a":0.04,"b":0.96},{"x":-1.1,"y":-0.3,"a":0.04,"b":0.96},{"x":-1,"y":-0.3,"a":0.04,"b":0.96},{"x":-0.9,"y":-0.3,"a":0.04,"b":0.96},{"x":-0.8,"y":-0.3,"a":0.04,"b":0.96},{"x":-0.7,"y":-0.3,"a":0.04,"b":0.96},{"x":-0.6,"y":-0.3,"a":0.04,"b":0.96},{"x":-0.5,"y":-0.3,"a":0.05,"b":0.95},{"x":-0.4,"y":-0.3,"a":0.09,"b":0.91},{"x":-0.3,"y":-0.3,"a":0.5,"b":0.5},{"x":-0.2,"y":-0.3,"a":0.94,"b":0.06},{"x":-0.1,"y":-0.3,"a":0.96,"b":0.04},{"x":0,"y":-0.3,"a":1,"b":0},{"x":0.1,"y":-0.3,"a":0.96,"b":0.04},{"x":0.2,"y":-0.3,"a":0.94,"b":0.06},{"x":0.3,"y":-0.3,"a":0.5,"b":0.5},{"x":0.4,"y":-0.3,"a":0.09,"b":0.91},{"x":0.5,"y":-0.3,"a":0.05,"b":0.95},{"x":0.6,"y":-0.3,"a":0.04,"b":0.96},{"x":0.7,"y":-0.3,"a":0.04,"b":0.96},{"x":0.8,"y":-0.3,"a":0.04,"b":0.96},{"x":0.9,"y":-0.3,"a":0.04,"b":0.96},{"x":1,"y":-0.3,"a":0.04,"b":0.96},{"x":1.1,"y":-0.3,"a":0.04,"b":0.96},{"x":1.2,"y":-0.3,"a":0.04,"b":0.96},{"x":1.3,"y":-0.3,"a":0.04,"b":0.96},{"x":1.4,"y":-0.3,"a":0.04,"b":0.96},{"x":1.5,"y":-0.3,"a":0.04,"b":0.96},{"x":1.6,"y":-0.3,"a":0.04,"b":0.96},{"x":1.7,"y":-0.3,"a":0.04,"b":0.96},{"x":1.8,"y":-0.3,"a":0.04,"b":0.96},{"x":1.9,"y":-0.3,"a":0.04,"b":0.96},{"x":2,"y":-0.3,"a":0.04,"b":0.96},
{"x":-2,"y":-0.4,"a":0.04,"b":0.96},{"x":-1.9,"y":-0.4,"a":0.04,"b":0.96},{"x":-1.8,"y":-0.4,"a":0.04,"b":0.96},{"x":-1.7,"y":-0.4,"a":0.04,"b":0.96},{"x":-1.6,"y":-0.4,"a":0.04,"b":0.96},{"x":-1.5,"y":-0.4,"a":0.04,"b":0.96},{"x":-1.4,"y":-0.4,"a":0.04,"b":0.96},{"x":-1.3,"y":-0.4,"a":0.04,"b":0.96},{"x":-1.2,"y":-0.4,"a":0.04,"b":0.96},{"x":-1.1,"y":-0.4,"a":0.04,"b":0.96},{"x":-1,"y":-0.4,"a":0.04,"b":0.96},{"x":-0.9,"y":-0.4,"a":0.04,"b":0.96},{"x":-0.8,"y":-0.4,"a":0.04,"b":0.96},{"x":-0.7,"y":-0.4,"a":0.04,"b":0.96},{"x":-0.6,"y":-0.4,"a":0.06,"b":0.94},{"x":-0.5,"y":-0.4,"a":0.13,"b":0.87},{"x":-0.4,"y":-0.4,"a":0.5,"b":0.5},{"x":-0.3,"y":-0.4,"a":0.91,"b":0.09},{"x":-0.2,"y":-0.4,"a":0.96,"b":0.04},{"x":-0.1,"y":-0.4,"a":0.96,"b":0.04},{"x":0,"y":-0.4,"a":1,"b":0},{"x":0.1,"y":-0.4,"a":0.96,"b":0.04},{"x":0.2,"y":-0.4,"a":0.96,"b":0.04},{"x":0.3,"y":-0.4,"a":0.91,"b":0.09},{"x":0.4,"y":-0.4,"a":0.5,"b":0.5},{"x":0.5,"y":-0.4,"a":0.13,"b":0.87},{"x":0.6,"y":-0.4,"a":0.06,"b":0.94},{"x":0.7,"y":-0.4,"a":0.04,"b":0.96},{"x":0.8,"y":-0.4,"a":0.04,"b":0.96},{"x":0.9,"y":-0.4,"a":0.04,"b":0.96},{"x":1,"y":-0.4,"a":0.04,"b":0.96},{"x":1.1,"y":-0.4,"a":0.04,"b":0.96},{"x":1.2,"y":-0.4,"a":0.04,"b":0.96},{"x":1.3,"y":-0.4,"a":0.04,"b":0.96},{"x":1.4,"y":-0.4,"a":0.04,"b":0.96},{"x":1.5,"y":-0.4,"a":0.04,"b":0.96},{"x":1.6,"y":-0.4,"a":0.04,"b":0.96},{"x":1.7,"y":-0.4,"a":0.04,"b":0.96},{"x":1.8,"y":-0.4,"a":0.04,"b":0.96},{"x":1.9,"y":-0.4,"a":0.04,"b":0.96},{"x":2,"y":-0.4,"a":0.04,"b":0.96},
{"x":-2,"y":-0.5,"a":0.04,"b":0.96},{"x":-1.9,"y":-0.5,"a":0.04,"b":0.96},{"x":-1.8,"y":-0.5,"a":0.04,"b":0.96},{"x":-1.7,"y":-0.5,"a":0.04,"b":0.96},{"x":-1.6,"y":-0.5,"a":0.04,"b":0.96},{"x":-1.5,"y":-0.5,"a":0.04,"b":0.96},{"x":-1.4,"y":-0.5,"a":0.04,"b":0.96},{"x":-1.3,"y":-0.5,"a":0.04,"b":0.96},{"x":-1.2,"y":-0.5,"a":0.04,"b":0.96},{"x":-1.1,"y":-0.5,"a":0.04,"b":0.96},{"x":-1,"y":-0.5,"a":0.04,"b":0.96},{"x":-0.9,"y":-0.5,"a":0.04,"b":0.96},{"x":-0.8,"y":-0.5,"a":0.05,"b":0.95},{"x":-0.7,"y":-0.5,"a":0.07,"b":0.93},{"x":-0.6,"y":-0.5,"a":0.17,"b":0.83},{"x":-0.5,"y":-0.5,"a":0.5,"b":0.5},{"x":-0.4,"y":-0.5,"a":0.87,"b":0.13},{"x":-0.3,"y":-0.5,"a":0.95,"b":0.05},{"x":-0.2,"y":-0.5,"a":0.96,"b":0.04},{"x":-0.1,"y":-0.5,"a":0.96,"b":0.04},{"x":0,"y":-0.5,"a":1,"b":0},{"x":0.1,"y":-0.5,"a":0.96,"b":0.04},{"x":0.2,"y":-0.5,"a":0.96,"b":0.04},{"x":0.3,"y":-0.5,"a":0.95,"b":0.05},{"x":0.4,"y":-0.5,"a":0.87,"b":0.13},{"x":0.5,"y":-0.5,"a":0.5,"b":0.5},{"x":0.6,"y":-0.5,"a":0.17,"b":0.83},{"x":0.7,"y":-0.5,"a":0.07,"b":0.93},{"x":0.8,"y":-0.5,"a":0.05,"b":0.95},{"x":0.9,"y":-0.5,"a":0.04,"b":0.96},{"x":1,"y":-0.5,"a":0.04,"b":0.96},{"x":1.1,"y":-0.5,"a":0.04,"b":0.96},{"x":1.2,"y":-0.5,"a":0.04,"b":0.96},{"x":1.3,"y":-0.5,"a":0.04,"b":0.96},{"x":1.4,"y":-0.5,"a":0.04,"b":0.96},{"x":1.5,"y":-0.5,"a":0.04,"b":0.96},{"x":1.6,"y":-0.5,"a":0.04,"b":0.96},{"x":1.7,"y":-0.5,"a":0.04,"b":0.96},{"x":1.8,"y":-0.5,"a":0.04,"b":0.96},{"x":1.9,"y":-0.5,"a":0.04,"b":0.96},{"x":2,"y":-0.5,"a":0.04,"b":0.96},
{"x":-2,"y":-0.6,"a":0.04,"b":0.96},{"x":-1.9,"y":-0.6,"a":0.04,"b":0.96},{"x":-1.8,"y":-0.6,"a":0.04,"b":0.96},{"x":-1.7,"y":-0.6,"a":0.04,"b":0.96},{"x":-1.6,"y":-0.6,"a":0.04,"b":0.96},{"x":-1.5,"y":-0.6,"a":0.04,"b":0.96},{"x":-1.4,"y":-0.6,"a":0.04,"b":0.96},{"x":-1.3,"y":-0.6,"a":0.04,"b":0.96},{"x":-1.2,"y":-0.6,"a":0.04,"b":0.96},{"x":-1.1,"y":-0.6,"a":0.04,"b":0.96},{"x":-1,"y":-0.6,"a":0.05,"b":0.95},{"x":-0.9,"y":-0.6,"a":0.06,"b":0.94},{"x":-0.8,"y":-0.6,"a":0.09,"b":0.91},{"x":-0.7,"y":-0.6,"a":0.2,"b":0.8},{"x":-0.6,"y":-0.6,"a":0.5,"b":0.5},{"x":-0.5,"y":-0.6,"a":0.83,"b":0.17},{"x":-0.4,"y":-0.6,"a":0.94,"b":0.06},{"x":-0.3,"y":-0.6,"a":0.96,"b":0.04},{"x":-0.2,"y":-0.6,"a":0.96,"b":0.04},{"x":-0.1,"y":-0.6,"a":0.96,"b":0.04},{"x":0,"y":-0.6,"a":1,"b":0},{"x":0.1,"y":-0.6,"a":0.96,"b":0.04},{"x":0.2,"y":-0.6,"a":0.96,"b":0.04},{"x":0.3,"y":-0.6,"a":0.96,"b":0.04},{"x":0.4,"y":-0.6,"a":0.94,"b":0.06},{"x":0.5,"y":-0.6,"a":0.83,"b":0.17},{"x":0.6,"y":-0.6,"a":0.5,"b":0.5},{"x":0.7,"y":-0.6,"a":0.2,"b":0.8},{"x":0.8,"y":-0.6,"a":0.09,"b":0.91},{"x":0.9,"y":-0.6,"a":0.06,"b":0.94},{"x":1,"y":-0.6,"a":0.05,"b":0.95},{"x":1.1,"y":-0.6,"a":0.04,"b":0.96},{"x":1.2,"y":-0.6,"a":0.04,"b":0.96},{"x":1.3,"y":-0.6,"a":0.04,"b":0.96},{"x":1.4,"y":-0.6,"a":0.04,"b":0.96},{"x":1.5,"y":-0.6,"a":0.04,"b":0.96},{"x":1.6,"y":-0.6,"a":0.04,"b":0.96},{"x":1.7,"y":-0.6,"a":0.04,"b":0.96},{"x":1.8,"y":-0.6,"a":0.04,"b":0.96},{"x":1.9,"y":-0.6,"a":0.04,"b":0.96},{"x":2,"y":-0.6,"a":0.04,"b":0.96},
{"x":-2,"y":-0.7,"a":0.04,"b":0.96},{"x":-1.9,"y":-0.7,"a":0.04,"b":0.96},{"x":-1.8,"y":-0.7,"a":0.04,"b":0.96},{"x":-1.7,"y":-0.7,"a":0.04,"b":0.96},{"x":-1.6,"y":-0.7,"a":0.04,"b":0.96},{"x":-1.5,"y":-0.7,"a":0.04,"b":0.96},{"x":-1.4,"y":-0.7,"a":0.04,"b":0.96},{"x":-1.3,"y":-0.7,"a":0.04,"b":0.96},{"x":-1.2,"y":-0.7,"a":0.05,"b":0.95},{"x":-1.1,"y":-0.7,"a":0.05,"b":0.95},{"x":-1,"y":-0.7,"a":0.07,"b":0.93},{"x":-0.9,"y":-0.7,"a":0.11,"b":0.89},{"x":-0.8,"y":-0.7,"a":0.23,"b":0.77},{"x":-0.7,"y":-0.7,"a":0.5,"b":0.5},{"x":-0.6,"y":-0.7,"a":0.8,"b":0.2},{"x":-0.5,"y":-0.7,"a":0.93,"b":0.07},{"x":-0.4,"y":-0.7,"a":0.96,"b":0.04},{"x":-0.3,"y":-0.7,"a":0.96,"b":0.04},{"x":-0.2,"y":-0.7,"a":0.96,"b":0.04},{"x":-0.1,"y":-0.7,"a":0.96,"b":0.04},{"x":0,"y":-0.7,"a":1,"b":0},{"x":0.1,"y":-0.7,"a":0.96,"b":0.04},{"x":0.2,"y":-0.7,"a":0.96,"b":0.04},{"x":0.3,"y":-0.7,"a":0.96,"b":0.04},{"x":0.4,"y":-0.7,"a":0.96,"b":0.04},{"x":0.5,"y":-0.7,"a":0.93,"b":0.07},{"x":0.6,"y":-0.7,"a":0.8,"b":0.2},{"x":0.7,"y":-0.7,"a":0.5,"b":0.5},{"x":0.8,"y":-0.7,"a":0.23,"b":0.77},{"x":0.9,"y":-0.7,"a":0.11,"b":0.89},{"x":1,"y":-0.7,"a":0.07,"b":0.93},{"x":1.1,"y":-0.7,"a":0.05,"b":0.95},{"x":1.2,"y":-0.7,"a":0.05,"b":0.95},{"x":1.3,"y":-0.7,"a":0.04,"b":0.96},{"x":1.4,"y":-0.7,"a":0.04,"b":0.96},{"x":1.5,"y":-0.7,"a":0.04,"b":0.96},{"x":1.6,"y":-0.7,"a":0.04,"b":0.96},{"x":1.7,"y":-0.7,"a":0.04,"b":0.96},{"x":1.8,"y":-0.7,"a":0.04,"b":0.96},{"x":1.9,"y":-0.7,"a":0.04,"b":0.96},{"x":2,"y":-0.7,"a":0.04,"b":0.96},
{"x":-2,"y":-0.8,"a":0.04,"b":0.96},{"x":-1.9,"y":-0.8,"a":0.04,"b":0.96},{"x":-1.8,"y":-0.8,"a":0.04,"b":0.96},{"x":-1.7,"y":-0.8,"a":0.04,"b":0.96},{"x":-1.6,"y":-0.8,"a":0.04,"b":0.96},{"x":-1.5,"y":-0.8,"a":0.04,"b":0.96},{"x":-1.4,"y":-0.8,"a":0.04,"b":0.96},{"x":-1.3,"y":-0.8,"a":0.05,"b":0.95},{"x":-1.2,"y":-0.8,"a":0.06,"b":0.94},{"x":-1.1,"y":-0.8,"a":0.08,"b":0.92},{"x":-1,"y":-0.8,"a":0.13,"b":0.87},{"x":-0.9,"y":-0.8,"a":0.26,"b":0.74},{"x":-0.8,"y":-0.8,"a":0.5,"b":0.5},{"x":-0.7,"y":-0.8,"a":0.77,"b":0.23},{"x":-0.6,"y":-0.8,"a":0.91,"b":0.09},{"x":-0.5,"y":-0.8,"a":0.95,"b":0.05},{"x":-0.4,"y":-0.8,"a":0.96,"b":0.04},{"x":-0.3,"y":-0.8,"a":0.96,"b":0.04},{"x":-0.2,"y":-0.8,"a":0.96,"b":0.04},{"x":-0.1,"y":-0.8,"a":0.96,"b":0.04},{"x":0,"y":-0.8,"a":1,"b":0},{"x":0.1,"y":-0.8,"a":0.96,"b":0.04},{"x":0.2,"y":-0.8,"a":0.96,"b":0.04},{"x":0.3,"y":-0.8,"a":0.96,"b":0.04},{"x":0.4,"y":-0.8,"a":0.96,"b":0.04},{"x":0.5,"y":-0.8,"a":0.95,"b":0.05},{"x":0.6,"y":-0.8,"a":0.91,"b":0.09},{"x":0.7,"y":-0.8,"a":0.77,"b":0.23},{"x":0.8,"y":-0.8,"a":0.5,"b":0.5},{"x":0.9,"y":-0.8,"a":0.26,"b":0.74},{"x":1,"y":-0.8,"a":0.13,"b":0.87},{"x":1.1,"y":-0.8,"a":0.08,"b":0.92},{"x":1.2,"y":-0.8,"a":0.06,"b":0.94},{"x":1.3,"y":-0.8,"a":0.05,"b":0.95},{"x":1.4,"y":-0.8,"a":0.04,"b":0.96},{"x":1.5,"y":-0.8,"a":0.04,"b":0.96},{"x":1.6,"y":-0.8,"a":0.04,"b":0.96},{"x":1.7,"y":-0.8,"a":0.04,"b":0.96},{"x":1.8,"y":-0.8,"a":0.04,"b":0.96},{"x":1.9,"y":-0.8,"a":0.04,"b":0.96},{"x":2,"y":-0.8,"a":0.04,"b":0.96},
{"x":-2,"y":-0.9,"a":0.04,"b":0.96},{"x":-1.9,"y":-0.9,"a":0.04,"b":0.96},{"x":-1.8,"y":-0.9,"a":0.04,"b":0.96},{"x":-1.7,"y":-0.9,"a":0.04,"b":0.96},{"x":-1.6,"y":-0.9,"a":0.04,"b":0.96},{"x":-1.5,"y":-0.9,"a":0.05,"b":0.95},{"x":-1.4,"y":-0.9,"a":0.05,"b":0.95},{"x":-1.3,"y":-0.9,"a":0.06,"b":0.94},{"x":-1.2,"y":-0.9,"a":0.09,"b":0.91},{"x":-1.1,"y":-0.9,"a":0.15,"b":0.85},{"x":-1,"y":-0.9,"a":0.28,"b":0.72},{"x":-0.9,"y":-0.9,"a":0.5,"b":0.5},{"x":-0.8,"y":-0.9,"a":0.74,"b":0.26},{"x":-0.7,"y":-0.9,"a":0.89,"b":0.11},{"x":-0.6,"y":-0.9,"a":0.94,"b":0.06},{"x":-0.5,"y":-0.9,"a":0.96,"b":0.04},{"x":-0.4,"y":-0.9,"a":0.96,"b":0.04},{"x":-0.3,"y":-0.9,"a":0.96,"b":0.04},{"x":-0.2,"y":-0.9,"a":0.96,"b":0.04},{"x":-0.1,"y":-0.9,"a":0.96,"b":0.04},{"x":0,"y":-0.9,"a":1,"b":0},{"x":0.1,"y":-0.9,"a":0.96,"b":0.04},{"x":0.2,"y":-0.9,"a":0.96,"b":0.04},{"x":0.3,"y":-0.9,"a":0.96,"b":0.04},{"x":0.4,"y":-0.9,"a":0.96,"b":0.04},{"x":0.5,"y":-0.9,"a":0.96,"b":0.04},{"x":0.6,"y":-0.9,"a":0.94,"b":0.06},{"x":0.7,"y":-0.9,"a":0.89,"b":0.11},{"x":0.8,"y":-0.9,"a":0.74,"b":0.26},{"x":0.9,"y":-0.9,"a":0.5,"b":0.5},{"x":1,"y":-0.9,"a":0.28,"b":0.72},{"x":1.1,"y":-0.9,"a":0.15,"b":0.85},{"x":1.2,"y":-0.9,"a":0.09,"b":0.91},{"x":1.3,"y":-0.9,"a":0.06,"b":0.94},{"x":1.4,"y":-0.9,"a":0.05,"b":0.95},{"x":1.5,"y":-0.9,"a":0.05,"b":0.95},{"x":1.6,"y":-0.9,"a":0.04,"b":0.96},{"x":1.7,"y":-0.9,"a":0.04,"b":0.96},{"x":1.8,"y":-0.9,"a":0.04,"b":0.96},{"x":1.9,"y":-0.9,"a":0.04,"b":0.96},{"x":2,"y":-0.9,"a":0.04,"b":0.96},
{"x":-2,"y":-1,"a":0.04,"b":0.96},{"x":-1.9,"y":-1,"a":0.04,"b":0.96},{"x":-1.8,"y":-1,"a":0.04,"b":0.96},{"x":-1.7,"y":-1,"a":0.05,"b":0.95},{"x":-1.6,"y":-1,"a":0.05,"b":0.95},{"x":-1.5,"y":-1,"a":0.06,"b":0.94},{"x":-1.4,"y":-1,"a":0.07,"b":0.93},{"x":-1.3,"y":-1,"a":0.1,"b":0.9},{"x":-1.2,"y":-1,"a":0.17,"b":0.83},{"x":-1.1,"y":-1,"a":0.3,"b":0.7},{"x":-1,"y":-1,"a":0.5,"b":0.5},{"x":-0.9,"y":-1,"a":0.72,"b":0.28},{"x":-0.8,"y":-1,"a":0.87,"b":0.13},{"x":-0.7,"y":-1,"a":0.93,"b":0.07},{"x":-0.6,"y":-1,"a":0.95,"b":0.05},{"x":-0.5,"y":-1,"a":0.96,"b":0.04},{"x":-0.4,"y":-1,"a":0.96,"b":0.04},{"x":-0.3,"y":-1,"a":0.96,"b":0.04},{"x":-0.2,"y":-1,"a":0.96,"b":0.04},{"x":-0.1,"y":-1,"a":0.96,"b":0.04},{"x":0,"y":-1,"a":1,"b":0},{"x":0.1,"y":-1,"a":0.96,"b":0.04},{"x":0.2,"y":-1,"a":0.96,"b":0.04},{"x":0.3,"y":-1,"a":0.96,"b":0.04},{"x":0.4,"y":-1,"a":0.96,"b":0.04},{"x":0.5,"y":-1,"a":0.96,"b":0.04},{"x":0.6,"y":-1,"a":0.95,"b":0.05},{"x":0.7,"y":-1,"a":0.93,"b":0.07},{"x":0.8,"y":-1,"a":0.87,"b":0.13},{"x":0.9,"y":-1,"a":0.72,"b":0.28},{"x":1,"y":-1,"a":0.5,"b":0.5},{"x":1.1,"y":-1,"a":0.3,"b":0.7},{"x":1.2,"y":-1,"a":0.17,"b":0.83},{"x":1.3,"y":-1,"a":0.1,"b":0.9},{"x":1.4,"y":-1,"a":0.07,"b":0.93},{"x":1.5,"y":-1,"a":0.06,"b":0.94},{"x":1.6,"y":-1,"a":0.05,"b":0.95},{"x":1.7,"y":-1,"a":0.05,"b":0.95},{"x":1.8,"y":-1,"a":0.04,"b":0.96},{"x":1.9,"y":-1,"a":0.04,"b":0.96},{"x":2,"y":-1,"a":0.04,"b":0.96},
{"x":-2,"y":-1.1,"a":0.04,"b":0.96},{"x":-1.9,"y":-1.1,"a":0.05,"b":0.95},{"x":-1.8,"y":-1.1,"a":0.05,"b":0.95},{"x":-1.7,"y":-1.1,"a":0.05,"b":0.95},{"x":-1.6,"y":-1.1,"a":0.06,"b":0.94},{"x":-1.5,"y":-1.1,"a":0.08,"b":0.92},{"x":-1.4,"y":-1.1,"a":0.12,"b":0.88},{"x":-1.3,"y":-1.1,"a":0.19,"b":0.81},{"x":-1.2,"y":-1.1,"a":0.31,"b":0.69},{"x":-1.1,"y":-1.1,"a":0.5,"b":0.5},{"x":-1,"y":-1.1,"a":0.7,"b":0.3},{"x":-0.9,"y":-1.1,"a":0.85,"b":0.15},{"x":-0.8,"y":-1.1,"a":0.92,"b":0.08},{"x":-0.7,"y":-1.1,"a":0.95,"b":0.05},{"x":-0.6,"y":-1.1,"a":0.96,"b":0.04},{"x":-0.5,"y":-1.1,"a":0.96,"b":0.04},{"x":-0.4,"y":-1.1,"a":0.96,"b":0.04},{"x":-0.3,"y":-1.1,"a":0.96,"b":0.04},{"x":-0.2,"y":-1.1,"a":0.96,"b":0.04},{"x":-0.1,"y":-1.1,"a":0.96,"b":0.04},{"x":0,"y":-1.1,"a":1,"b":0},{"x":0.1,"y":-1.1,"a":0.96,"b":0.04},{"x":0.2,"y":-1.1,"a":0.96,"b":0.04},{"x":0.3,"y":-1.1,"a":0.96,"b":0.04},{"x":0.4,"y":-1.1,"a":0.96,"b":0.04},{"x":0.5,"y":-1.1,"a":0.96,"b":0.04},{"x":0.6,"y":-1.1,"a":0.96,"b":0.04},{"x":0.7,"y":-1.1,"a":0.95,"b":0.05},{"x":0.8,"y":-1.1,"a":0.92,"b":0.08},{"x":0.9,"y":-1.1,"a":0.85,"b":0.15},{"x":1,"y":-1.1,"a":0.7,"b":0.3},{"x":1.1,"y":-1.1,"a":0.5,"b":0.5},{"x":1.2,"y":-1.1,"a":0.31,"b":0.69},{"x":1.3,"y":-1.1,"a":0.19,"b":0.81},{"x":1.4,"y":-1.1,"a":0.12,"b":0.88},{"x":1.5,"y":-1.1,"a":0.08,"b":0.92},{"x":1.6,"y":-1.1,"a":0.06,"b":0.94},{"x":1.7,"y":-1.1,"a":0.05,"b":0.95},{"x":1.8,"y":-1.1,"a":0.05,"b":0.95},{"x":1.9,"y":-1.1,"a":0.05,"b":0.95},{"x":2,"y":-1.1,"a":0.04,"b":0.96},
{"x":-2,"y":-1.2,"a":0.05,"b":0.95},{"x":-1.9,"y":-1.2,"a":0.05,"b":0.95},{"x":-1.8,"y":-1.2,"a":0.06,"b":0.94},{"x":-1.7,"y":-1.2,"a":0.07,"b":0.93},{"x":-1.6,"y":-1.2,"a":0.09,"b":0.91},{"x":-1.5,"y":-1.2,"a":0.13,"b":0.87},{"x":-1.4,"y":-1.2,"a":0.2,"b":0.8},{"x":-1.3,"y":-1.2,"a":0.32,"b":0.68},{"x":-1.2,"y":-1.2,"a":0.5,"b":0.5},{"x":-1.1,"y":-1.2,"a":0.69,"b":0.31},{"x":-1,"y":-1.2,"a":0.83,"b":0.17},{"x":-0.9,"y":-1.2,"a":0.91,"b":0.09},{"x":-0.8,"y":-1.2,"a":0.94,"b":0.06},{"x":-0.7,"y":-1.2,"a":0.95,"b":0.05},{"x":-0.6,"y":-1.2,"a":0.96,"b":0.04},{"x":-0.5,"y":-1.2,"a":0.96,"b":0.04},{"x":-0.4,"y":-1.2,"a":0.96,"b":0.04},{"x":-0.3,"y":-1.2,"a":0.96,"b":0.04},{"x":-0.2,"y":-1.2,"a":0.96,"b":0.04},{"x":-0.1,"y":-1.2,"a":0.96,"b":0.04},{"x":0,"y":-1.2,"a":1,"b":0},{"x":0.1,"y":-1.2,"a":0.96,"b":0.04},{"x":0.2,"y":-1.2,"a":0.96,"b":0.04},{"x":0.3,"y":-1.2,"a":0.96,"b":0.04},{"x":0.4,"y":-1.2,"a":0.96,"b":0.04},{"x":0.5,"y":-1.2,"a":0.96,"b":0.04},{"x":0.6,"y":-1.2,"a":0.96,"b":0.04},{"x":0.7,"y":-1.2,"a":0.95,"b":0.05},{"x":0.8,"y":-1.2,"a":0.94,"b":0.06},{"x":0.9,"y":-1.2,"a":0.91,"b":0.09},{"x":1,"y":-1.2,"a":0.83,"b":0.17},{"x":1.1,"y":-1.2,"a":0.69,"b":0.31},{"x":1.2,"y":-1.2,"a":0.5,"b":0.5},{"x":1.3,"y":-1.2,"a":0.32,"b":0.68},{"x":1.4,"y":-1.2,"a":0.2,"b":0.8},{"x":1.5,"y":-1.2,"a":0.13,"b":0.87},{"x":1.6,"y":-1.2,"a":0.09,"b":0.91},{"x":1.7,"y":-1.2,"a":0.07,"b":0.93},{"x":1.8,"y":-1.2,"a":0.06,"b":0.94},{"x":1.9,"y":-1.2,"a":0.05,"b":0.95},{"x":2,"y":-1.2,"a":0.05,"b":0.95},
{"x":-2,"y":-1.3,"a":0.05,"b":0.95},{"x":-1.9,"y":-1.3,"a":0.06,"b":0.94},{"x":-1.8,"y":-1.3,"a":0.08,"b":0.92},{"x":-1.7,"y":-1.3,"a":0.1,"b":0.9},{"x":-1.6,"y":-1.3,"a":0.14,"b":0.86},{"x":-1.5,"y":-1.3,"a":0.22,"b":0.78},{"x":-1.4,"y":-1.3,"a":0.34,"b":0.66},{"x":-1.3,"y":-1.3,"a":0.5,"b":0.5},{"x":-1.2,"y":-1.3,"a":0.68,"b":0.32},{"x":-1.1,"y":-1.3,"a":0.81,"b":0.19},{"x":-1,"y":-1.3,"a":0.9,"b":0.1},{"x":-0.9,"y":-1.3,"a":0.94,"b":0.06},{"x":-0.8,"y":-1.3,"a":0.95,"b":0.05},{"x":-0.7,"y":-1.3,"a":0.96,"b":0.04},{"x":-0.6,"y":-1.3,"a":0.96,"b":0.04},{"x":-0.5,"y":-1.3,"a":0.96,"b":0.04},{"x":-0.4,"y":-1.3,"a":0.96,"b":0.04},{"x":-0.3,"y":-1.3,"a":0.96,"b":0.04},{"x":-0.2,"y":-1.3,"a":0.96,"b":0.04},{"x":-0.1,"y":-1.3,"a":0.96,"b":0.04},{"x":0,"y":-1.3,"a":1,"b":0},{"x":0.1,"y":-1.3,"a":0.96,"b":0.04},{"x":0.2,"y":-1.3,"a":0.96,"b":0.04},{"x":0.3,"y":-1.3,"a":0.96,"b":0.04},{"x":0.4,"y":-1.3,"a":0.96,"b":0.04},{"x":0.5,"y":-1.3,"a":0.96,"b":0.04},{"x":0.6,"y":-1.3,"a":0.96,"b":0.04},{"x":0.7,"y":-1.3,"a":0.96,"b":0.04},{"x":0.8,"y":-1.3,"a":0.95,"b":0.05},{"x":0.9,"y":-1.3,"a":0.94,"b":0.06},{"x":1,"y":-1.3,"a":0.9,"b":0.1},{"x":1.1,"y":-1.3,"a":0.81,"b":0.19},{"x":1.2,"y":-1.3,"a":0.68,"b":0.32},{"x":1.3,"y":-1.3,"a":0.5,"b":0.5},{"x":1.4,"y":-1.3,"a":0.34,"b":0.66},{"x":1.5,"y":-1.3,"a":0.22,"b":0.78},{"x":1.6,"y":-1.3,"a":0.14,"b":0.86},{"x":1.7,"y":-1.3,"a":0.1,"b":0.9},{"x":1.8,"y":-1.3,"a":0.08,"b":0.92},{"x":1.9,"y":-1.3,"a":0.06,"b":0.94},{"x":2,"y":-1.3,"a":0.05,"b":0.95},
{"x":-2,"y":-1.4,"a":0.07,"b":0.93},{"x":-1.9,"y":-1.4,"a":0.08,"b":0.92},{"x":-1.8,"y":-1.4,"a":0.11,"b":0.89},{"x":-1.7,"y":-1.4,"a":0.16,"b":0.84},{"x":-1.6,"y":-1.4,"a":0.23,"b":0.77},{"x":-1.5,"y":-1.4,"a":0.35,"b":0.65},{"x":-1.4,"y":-1.4,"a":0.5,"b":0.5},{"x":-1.3,"y":-1.4,"a":0.66,"b":0.34},{"x":-1.2,"y":-1.4,"a":0.8,"b":0.2},{"x":-1.1,"y":-1.4,"a":0.88,"b":0.12},{"x":-1,"y":-1.4,"a":0.93,"b":0.07},{"x":-0.9,"y":-1.4,"a":0.95,"b":0.05},{"x":-0.8,"y":-1.4,"a":0.96,"b":0.04},{"x":-0.7,"y":-1.4,"a":0.96,"b":0.04},{"x":-0.6,"y":-1.4,"a":0.96,"b":0.04},{"x":-0.5,"y":-1.4,"a":0.96,"b":0.04},{"x":-0.4,"y":-1.4,"a":0.96,"b":0.04},{"x":-0.3,"y":-1.4,"a":0.96,"b":0.04},{"x":-0.2,"y":-1.4,"a":0.96,"b":0.04},{"x":-0.1,"y":-1.4,"a":0.96,"b":0.04},{"x":0,"y":-1.4,"a":1,"b":0},{"x":0.1,"y":-1.4,"a":0.96,"b":0.04},{"x":0.2,"y":-1.4,"a":0.96,"b":0.04},{"x":0.3,"y":-1.4,"a":0.96,"b":0.04},{"x":0.4,"y":-1.4,"a":0.96,"b":0.04},{"x":0.5,"y":-1.4,"a":0.96,"b":0.04},{"x":0.6,"y":-1.4,"a":0.96,"b":0.04},{"x":0.7,"y":-1.4,"a":0.96,"b":0.04},{"x":0.8,"y":-1.4,"a":0.96,"b":0.04},{"x":0.9,"y":-1.4,"a":0.95,"b":0.05},{"x":1,"y":-1.4,"a":0.93,"b":0.07},{"x":1.1,"y":-1.4,"a":0.88,"b":0.12},{"x":1.2,"y":-1.4,"a":0.8,"b":0.2},{"x":1.3,"y":-1.4,"a":0.66,"b":0.34},{"x":1.4,"y":-1.4,"a":0.5,"b":0.5},{"x":1.5,"y":-1.4,"a":0.35,"b":0.65},{"x":1.6,"y":-1.4,"a":0.23,"b":0.77},{"x":1.7,"y":-1.4,"a":0.16,"b":0.84},{"x":1.8,"y":-1.4,"a":0.11,"b":0.89},{"x":1.9,"y":-1.4,"a":0.08,"b":0.92},{"x":2,"y":-1.4,"a":0.07,"b":0.93},
{"x":-2,"y":-1.5,"a":0.09,"b":0.91},{"x":-1.9,"y":-1.5,"a":0.12,"b":0.88},{"x":-1.8,"y":-1.5,"a":0.17,"b":0.83},{"x":-1.7,"y":-1.5,"a":0.25,"b":0.75},{"x":-1.6,"y":-1.5,"a":0.36,"b":0.64},{"x":-1.5,"y":-1.5,"a":0.5,"b":0.5},{"x":-1.4,"y":-1.5,"a":0.65,"b":0.35},{"x":-1.3,"y":-1.5,"a":0.78,"b":0.22},{"x":-1.2,"y":-1.5,"a":0.87,"b":0.13},{"x":-1.1,"y":-1.5,"a":0.92,"b":0.08},{"x":-1,"y":-1.5,"a":0.94,"b":0.06},{"x":-0.9,"y":-1.5,"a":0.95,"b":0.05},{"x":-0.8,"y":-1.5,"a":0.96,"b":0.04},{"x":-0.7,"y":-1.5,"a":0.96,"b":0.04},{"x":-0.6,"y":-1.5,"a":0.96,"b":0.04},{"x":-0.5,"y":-1.5,"a":0.96,"b":0.04},{"x":-0.4,"y":-1.5,"a":0.96,"b":0.04},{"x":-0.3,"y":-1.5,"a":0.96,"b":0.04},{"x":-0.2,"y":-1.5,"a":0.96,"b":0.04},{"x":-0.1,"y":-1.5,"a":0.96,"b":0.04},{"x":0,"y":-1.5,"a":1,"b":0},{"x":0.1,"y":-1.5,"a":0.96,"b":0.04},{"x":0.2,"y":-1.5,"a":0.96,"b":0.04},{"x":0.3,"y":-1.5,"a":0.96,"b":0.04},{"x":0.4,"y":-1.5,"a":0.96,"b":0.04},{"x":0.5,"y":-1.5,"a":0.96,"b":0.04},{"x":0.6,"y":-1.5,"a":0.96,"b":0.04},{"x":0.7,"y":-1.5,"a":0.96,"b":0.04},{"x":0.8,"y":-1.5,"a":0.96,"b":0.04},{"x":0.9,"y":-1.5,"a":0.95,"b":0.05},{"x":1,"y":-1.5,"a":0.94,"b":0.06},{"x":1.1,"y":-1.5,"a":0.92,"b":0.08},{"x":1.2,"y":-1.5,"a":0.87,"b":0.13},{"x":1.3,"y":-1.5,"a":0.78,"b":0.22},{"x":1.4,"y":-1.5,"a":0.65,"b":0.35},{"x":1.5,"y":-1.5,"a":0.5,"b":0.5},{"x":1.6,"y":-1.5,"a":0.36,"b":0.64},{"x":1.7,"y":-1.5,"a":0.25,"b":0.75},{"x":1.8,"y":-1.5,"a":0.17,"b":0.83},{"x":1.9,"y":-1.5,"a":0.12,"b":0.88},{"x":2,"y":-1.5,"a":0.09,"b":0.91},
{"x":-2,"y":-1.6,"a":0.13,"b":0.87},{"x":-1.9,"y":-1.6,"a":0.18,"b":0.82},{"x":-1.8,"y":-1.6,"a":0.26,"b":0.74},{"x":-1.7,"y":-1.6,"a":0.37,"b":0.63},{"x":-1.6,"y":-1.6,"a":0.5,"b":0.5},{"x":-1.5,"y":-1.6,"a":0.64,"b":0.36},{"x":-1.4,"y":-1.6,"a":0.77,"b":0.23},{"x":-1.3,"y":-1.6,"a":0.86,"b":0.14},{"x":-1.2,"y":-1.6,"a":0.91,"b":0.09},{"x":-1.1,"y":-1.6,"a":0.94,"b":0.06},{"x":-1,"y":-1.6,"a":0.95,"b":0.05},{"x":-0.9,"y":-1.6,"a":0.96,"b":0.04},{"x":-0.8,"y":-1.6,"a":0.96,"b":0.04},{"x":-0.7,"y":-1.6,"a":0.96,"b":0.04},{"x":-0.6,"y":-1.6,"a":0.96,"b":0.04},{"x":-0.5,"y":-1.6,"a":0.96,"b":0.04},{"x":-0.4,"y":-1.6,"a":0.96,"b":0.04},{"x":-0.3,"y":-1.6,"a":0.96,"b":0.04},{"x":-0.2,"y":-1.6,"a":0.96,"b":0.04},{"x":-0.1,"y":-1.6,"a":0.96,"b":0.04},{"x":0,"y":-1.6,"a":1,"b":0},{"x":0.1,"y":-1.6,"a":0.96,"b":0.04},{"x":0.2,"y":-1.6,"a":0.96,"b":0.04},{"x":0.3,"y":-1.6,"a":0.96,"b":0.04},{"x":0.4,"y":-1.6,"a":0.96,"b":0.04},{"x":0.5,"y":-1.6,"a":0.96,"b":0.04},{"x":0.6,"y":-1.6,"a":0.96,"b":0.04},{"x":0.7,"y":-1.6,"a":0.96,"b":0.04},{"x":0.8,"y":-1.6,"a":0.96,"b":0.04},{"x":0.9,"y":-1.6,"a":0.96,"b":0.04},{"x":1,"y":-1.6,"a":0.95,"b":0.05},{"x":1.1,"y":-1.6,"a":0.94,"b":0.06},{"x":1.2,"y":-1.6,"a":0.91,"b":0.09},{"x":1.3,"y":-1.6,"a":0.86,"b":0.14},{"x":1.4,"y":-1.6,"a":0.77,"b":0.23},{"x":1.5,"y":-1.6,"a":0.64,"b":0.36},{"x":1.6,"y":-1.6,"a":0.5,"b":0.5},{"x":1.7,"y":-1.6,"a":0.37,"b":0.63},{"x":1.8,"y":-1.6,"a":0.26,"b":0.74},{"x":1.9,"y":-1.6,"a":0.18,"b":0.82},{"x":2,"y":-1.6,"a":0.13,"b":0.87},
{"x":-2,"y":-1.7,"a":0.19,"b":0.81},{"x":-1.9,"y":-1.7,"a":0.27,"b":0.73},{"x":-1.8,"y":-1.7,"a":0.37,"b":0.63},{"x":-1.7,"y":-1.7,"a":0.5,"b":0.5},{"x":-1.6,"y":-1.7,"a":0.63,"b":0.37},{"x":-1.5,"y":-1.7,"a":0.75,"b":0.25},{"x":-1.4,"y":-1.7,"a":0.84,"b":0.16},{"x":-1.3,"y":-1.7,"a":0.9,"b":0.1},{"x":-1.2,"y":-1.7,"a":0.93,"b":0.07},{"x":-1.1,"y":-1.7,"a":0.95,"b":0.05},{"x":-1,"y":-1.7,"a":0.95,"b":0.05},{"x":-0.9,"y":-1.7,"a":0.96,"b":0.04},{"x":-0.8,"y":-1.7,"a":0.96,"b":0.04},{"x":-0.7,"y":-1.7,"a":0.96,"b":0.04},{"x":-0.6,"y":-1.7,"a":0.96,"b":0.04},{"x":-0.5,"y":-1.7,"a":0.96,"b":0.04},{"x":-0.4,"y":-1.7,"a":0.96,"b":0.04},{"x":-0.3,"y":-1.7,"a":0.96,"b":0.04},{"x":-0.2,"y":-1.7,"a":0.96,"b":0.04},{"x":-0.1,"y":-1.7,"a":0.96,"b":0.04},{"x":0,"y":-1.7,"a":1,"b":0},{"x":0.1,"y":-1.7,"a":0.96,"b":0.04},{"x":0.2,"y":-1.7,"a":0.96,"b":0.04},{"x":0.3,"y":-1.7,"a":0.96,"b":0.04},{"x":0.4,"y":-1.7,"a":0.96,"b":0.04},{"x":0.5,"y":-1.7,"a":0.96,"b":0.04},{"x":0.6,"y":-1.7,"a":0.96,"b":0.04},{"x":0.7,"y":-1.7,"a":0.96,"b":0.04},{"x":0.8,"y":-1.7,"a":0.96,"b":0.04},{"x":0.9,"y":-1.7,"a":0.96,"b":0.04},{"x":1,"y":-1.7,"a":0.95,"b":0.05},{"x":1.1,"y":-1.7,"a":0.95,"b":0.05},{"x":1.2,"y":-1.7,"a":0.93,"b":0.07},{"x":1.3,"y":-1.7,"a":0.9,"b":0.1},{"x":1.4,"y":-1.7,"a":0.84,"b":0.16},{"x":1.5,"y":-1.7,"a":0.75,"b":0.25},{"x":1.6,"y":-1.7,"a":0.63,"b":0.37},{"x":1.7,"y":-1.7,"a":0.5,"b":0.5},{"x":1.8,"y":-1.7,"a":0.37,"b":0.63},{"x":1.9,"y":-1.7,"a":0.27,"b":0.73},{"x":2,"y":-1.7,"a":0.19,"b":0.81},
{"x":-2,"y":-1.8,"a":0.28,"b":0.72},{"x":-1.9,"y":-1.8,"a":0.38,"b":0.62},{"x":-1.8,"y":-1.8,"a":0.5,"b":0.5},{"x":-1.7,"y":-1.8,"a":0.63,"b":0.37},{"x":-1.6,"y":-1.8,"a":0.74,"b":0.26},{"x":-1.5,"y":-1.8,"a":0.83,"b":0.17},{"x":-1.4,"y":-1.8,"a":0.89,"b":0.11},{"x":-1.3,"y":-1.8,"a":0.92,"b":0.08},{"x":-1.2,"y":-1.8,"a":0.94,"b":0.06},{"x":-1.1,"y":-1.8,"a":0.95,"b":0.05},{"x":-1,"y":-1.8,"a":0.96,"b":0.04},{"x":-0.9,"y":-1.8,"a":0.96,"b":0.04},{"x":-0.8,"y":-1.8,"a":0.96,"b":0.04},{"x":-0.7,"y":-1.8,"a":0.96,"b":0.04},{"x":-0.6,"y":-1.8,"a":0.96,"b":0.04},{"x":-0.5,"y":-1.8,"a":0.96,"b":0.04},{"x":-0.4,"y":-1.8,"a":0.96,"b":0.04},{"x":-0.3,"y":-1.8,"a":0.96,"b":0.04},{"x":-0.2,"y":-1.8,"a":0.96,"b":0.04},{"x":-0.1,"y":-1.8,"a":0.96,"b":0.04},{"x":0,"y":-1.8,"a":1,"b":0},{"x":0.1,"y":-1.8,"a":0.96,"b":0.04},{"x":0.2,"y":-1.8,"a":0.96,"b":0.04},{"x":0.3,"y":-1.8,"a":0.96,"b":0.04},{"x":0.4,"y":-1.8,"a":0.96,"b":0.04},{"x":0.5,"y":-1.8,"a":0.96,"b":0.04},{"x":0.6,"y":-1.8,"a":0.96,"b":0.04},{"x":0.7,"y":-1.8,"a":0.96,"b":0.04},{"x":0.8,"y":-1.8,"a":0.96,"b":0.04},{"x":0.9,"y":-1.8,"a":0.96,"b":0.04},{"x":1,"y":-1.8,"a":0.96,"b":0.04},{"x":1.1,"y":-1.8,"a":0.95,"b":0.05},{"x":1.2,"y":-1.8,"a":0.94,"b":0.06},{"x":1.3,"y":-1.8,"a":0.92,"b":0.08},{"x":1.4,"y":-1.8,"a":0.89,"b":0.11},{"x":1.5,"y":-1.8,"a":0.83,"b":0.17},{"x":1.6,"y":-1.8,"a":0.74,"b":0.26},{"x":1.7,"y":-1.8,"a":0.63,"b":0.37},{"x":1.8,"y":-1.8,"a":0.5,"b":0.5},{"x":1.9,"y":-1.8,"a":0.38,"b":0.62},{"x":2,"y":-1.8,"a":0.28,"b":0.72},
{"x":-2,"y":-1.9,"a":0.39,"b":0.61},{"x":-1.9,"y":-1.9,"a":0.5,"b":0.5},{"x":-1.8,"y":-1.9,"a":0.62,"b":0.38},{"x":-1.7,"y":-1.9,"a":0.73,"b":0.27},{"x":-1.6,"y":-1.9,"a":0.82,"b":0.18},{"x":-1.5,"y":-1.9,"a":0.88,"b":0.12},{"x":-1.4,"y":-1.9,"a":0.92,"b":0.08},{"x":-1.3,"y":-1.9,"a":0.94,"b":0.06},{"x":-1.2,"y":-1.9,"a":0.95,"b":0.05},{"x":-1.1,"y":-1.9,"a":0.95,"b":0.05},{"x":-1,"y":-1.9,"a":0.96,"b":0.04},{"x":-0.9,"y":-1.9,"a":0.96,"b":0.04},{"x":-0.8,"y":-1.9,"a":0.96,"b":0.04},{"x":-0.7,"y":-1.9,"a":0.96,"b":0.04},{"x":-0.6,"y":-1.9,"a":0.96,"b":0.04},{"x":-0.5,"y":-1.9,"a":0.96,"b":0.04},{"x":-0.4,"y":-1.9,"a":0.96,"b":0.04},{"x":-0.3,"y":-1.9,"a":0.96,"b":0.04},{"x":-0.2,"y":-1.9,"a":0.96,"b":0.04},{"x":-0.1,"y":-1.9,"a":0.96,"b":0.04},{"x":0,"y":-1.9,"a":1,"b":0},{"x":0.1,"y":-1.9,"a":0.96,"b":0.04},{"x":0.2,"y":-1.9,"a":0.96,"b":0.04},{"x":0.3,"y":-1.9,"a":0.96,"b":0.04},{"x":0.4,"y":-1.9,"a":0.96,"b":0.04},{"x":0.5,"y":-1.9,"a":0.96,"b":0.04},{"x":0.6,"y":-1.9,"a":0.96,"b":0.04},{"x":0.7,"y":-1.9,"a":0.96,"b":0.04},{"x":0.8,"y":-1.9,"a":0.96,"b":0.04},{"x":0.9,"y":-1.9,"a":0.96,"b":0.04},{"x":1,"y":-1.9,"a":0.96,"b":0.04},{"x":1.1,"y":-1.9,"a":0.95,"b":0.05},{"x":1.2,"y":-1.9,"a":0.95,"b":0.05},{"x":1.3,"y":-1.9,"a":0.94,"b":0.06},{"x":1.4,"y":-1.9,"a":0.92,"b":0.08},{"x":1.5,"y":-1.9,"a":0.88,"b":0.12},{"x":1.6,"y":-1.9,"a":0.82,"b":0.18},{"x":1.7,"y":-1.9,"a":0.73,"b":0.27},{"x":1.8,"y":-1.9,"a":0.62,"b":0.38},{"x":1.9,"y":-1.9,"a":0.5,"b":0.5},{"x":2,"y":-1.9,"a":0.39,"b":0.61},
{"x":-2,"y":-2,"a":0.5,"b":0.5},{"x":-1.9,"y":-2,"a":0.61,"b":0.39},{"x":-1.8,"y":-2,"a":0.72,"b":0.28},{"x":-1.7,"y":-2,"a":0.81,"b":0.19},{"x":-1.6,"y":-2,"a":0.87,"b":0.13},{"x":-1.5,"y":-2,"a":0.91,"b":0.09},{"x":-1.4,"y":-2,"a":0.93,"b":0.07},{"x":-1.3,"y":-2,"a":0.95,"b":0.05},{"x":-1.2,"y":-2,"a":0.95,"b":0.05},{"x":-1.1,"y":-2,"a":0.96,"b":0.04},{"x":-1,"y":-2,"a":0.96,"b":0.04},{"x":-0.9,"y":-2,"a":0.96,"b":0.04},{"x":-0.8,"y":-2,"a":0.96,"b":0.04},{"x":-0.7,"y":-2,"a":0.96,"b":0.04},{"x":-0.6,"y":-2,"a":0.96,"b":0.04},{"x":-0.5,"y":-2,"a":0.96,"b":0.04},{"x":-0.4,"y":-2,"a":0.96,"b":0.04},{"x":-0.3,"y":-2,"a":0.96,"b":0.04},{"x":-0.2,"y":-2,"a":0.96,"b":0.04},{"x":-0.1,"y":-2,"a":0.96,"b":0.04},{"x":0,"y":-2,"a":1,"b":0},{"x":0.1,"y":-2,"a":0.96,"b":0.04},{"x":0.2,"y":-2,"a":0.96,"b":0.04},{"x":0.3,"y":-2,"a":0.96,"b":0.04},{"x":0.4,"y":-2,"a":0.96,"b":0.04},{"x":0.5,"y":-2,"a":0.96,"b":0.04},{"x":0.6,"y":-2,"a":0.96,"b":0.04},{"x":0.7,"y":-2,"a":0.96,"b":0.04},{"x":0.8,"y":-2,"a":0.96,"b":0.04},{"x":0.9,"y":-2,"a":0.96,"b":0.04},{"x":1,"y":-2,"a":0.96,"b":0.04},{"x":1.1,"y":-2,"a":0.96,"b":0.04},{"x":1.2,"y":-2,"a":0.95,"b":0.05},{"x":1.3,"y":-2,"a":0.95,"b":0.05},{"x":1.4,"y":-2,"a":0.93,"b":0.07},{"x":1.5,"y":-2,"a":0.91,"b":0.09},{"x":1.6,"y":-2,"a":0.87,"b":0.13},{"x":1.7,"y":-2,"a":0.81,"b":0.19},{"x":1.8,"y":-2,"a":0.72,"b":0.28},{"x":1.9,"y":-2,"a":0.61,"b":0.39},{"x":2,"y":-2,"a":0.5,"b":0.5}
]},
"layer":[
{"layer":[
{"mark":{"type":"rect","binSpacing":0,"filled":false,"strokeWidth":1.4},
"encoding":{
"x":{"field":"x","type":"quantitative","bin":{"step":0.1,"extent":[-2.05,2.05],"nice":false},"scale":{"domain":[-2,2],"range":[67.3,341.7],"clamp":true},"axis":null},
"y":{"field":"y","type":"quantitative","bin":{"step":0.1,"extent":[-2.05,2.05],"nice":false},"scale":{"domain":[-2,2],"range":[348.7,75],"clamp":true},"axis":null},
"stroke":{"field":"a","type":"quantitative","scale":{"type":"linear","domain":[0,0.125,0.25,0.375,0.5,0.625,0.75,0.875,1],"range":["#fff5f0","#fee0d2","#fcbba1","#fc9272","#fb6a4a","#ef3b2c","#cb181d","#a50f15","#67000d"]},"legend":null}}},
{"mark":{"type":"rect","binSpacing":0},
"encoding":{
"x":{"field":"x","type":"quantitative","bin":{"step":0.1,"extent":[-2.05,2.05],"nice":false},"axis":{"orient":"bottom","offset":-117.3,"values":[-2,-1.5,-1,-0.5,0,0.5,1,1.5,2],"format":".1f","title":"t₂","titleBaseline":"alphabetic","titleY":35}},
"y":{"field":"y","type":"quantitative","bin":{"step":0.1,"extent":[-2.05,2.05],"nice":false},"axis":{"orient":"left","offset":-67.3,"values":[-2,-1.5,-1,-0.5,0,0.5,1,1.5,2],"format":".1f","title":"t₁","titleBaseline":"alphabetic","titleX":-42.5}},
"color":{"field":"a","type":"quantitative","scale":{"type":"linear","domain":[0,0.125,0.25,0.375,0.5,0.625,0.75,0.875,1],"range":["#fff5f0","#fee0d2","#fcbba1","#fc9272","#fb6a4a","#ef3b2c","#cb181d","#a50f15","#67000d"]},"legend":{"type":"gradient","orient":"none","legendX":377.7,"legendY":44.3,"direction":"vertical","values":[0,0.2,0.4,0.6,0.8,1],"format":".1f","title":null,"encode":{"labels":{"update":{"baseline":{"value":"middle"}}}}}}}},
{"data":{"values":[{}]},"mark":{"type":"rect","filled":false,"stroke":"#444","strokeWidth":1},
"encoding":{"x":{"datum":-2,"type":"quantitative","axis":{"orient":"bottom","offset":-117.3,"labels":false,"ticks":false,"domain":false,"title":"(a)","titleFont":"Liberation Serif","titleFontStyle":"normal","titleFontSize":20,"titleX":216,"titleY":108.5,"titleBaseline":"alphabetic","titleAlign":"center"}},"x2":{"datum":2},"y":{"datum":-2,"type":"quantitative","axis":null},"y2":{"datum":2}}}
],"resolve":{"axis":{"x":"independent","y":"independent"},"legend":{"color":"independent","stroke":"independent"}}},
{"layer":[
{"mark":{"type":"rect","binSpacing":0,"filled":false,"strokeWidth":1.4},
"encoding":{
"x":{"field":"x","type":"quantitative","bin":{"step":0.1,"extent":[-2.05,2.05],"nice":false},"scale":{"domain":[-2,2],"range":[509.3,783.3],"clamp":true},"axis":null},
"y":{"field":"y","type":"quantitative","bin":{"step":0.1,"extent":[-2.05,2.05],"nice":false},"scale":{"domain":[-2,2],"range":[348.7,75],"clamp":true},"axis":null},
"stroke":{"field":"b","type":"quantitative","scale":{"type":"linear","domain":[0,0.125,0.25,0.375,0.5,0.625,0.75,0.875,1],"range":["#f7fbff","#deebf7","#c6dbef","#9ecae1","#6baed6","#4292c6","#2171b5","#08519c","#08306b"]},"legend":null}}},
{"mark":{"type":"rect","binSpacing":0},
"encoding":{
"x":{"field":"x","type":"quantitative","bin":{"step":0.1,"extent":[-2.05,2.05],"nice":false},"axis":{"orient":"bottom","offset":-117.3,"values":[-2,-1.5,-1,-0.5,0,0.5,1,1.5,2],"format":".1f","title":"t₂","titleBaseline":"alphabetic","titleY":35}},
"y":{"field":"y","type":"quantitative","bin":{"step":0.1,"extent":[-2.05,2.05],"nice":false},"axis":{"orient":"left","offset":-509.3,"values":[-2,-1.5,-1,-0.5,0,0.5,1,1.5,2],"format":".1f","title":"t₁","titleBaseline":"alphabetic","titleX":-42.5}},
"color":{"field":"b","type":"quantitative","scale":{"type":"linear","domain":[0,0.125,0.25,0.375,0.5,0.625,0.75,0.875,1],"range":["#f7fbff","#deebf7","#c6dbef","#9ecae1","#6baed6","#4292c6","#2171b5","#08519c","#08306b"]},"legend":{"type":"gradient","orient":"none","legendX":819.3,"legendY":44.3,"direction":"vertical","values":[0,0.2,0.4,0.6,0.8,1],"format":".1f","title":null,"encode":{"labels":{"update":{"baseline":{"value":"middle"}}}}}}}},
{"data":{"values":[{}]},"mark":{"type":"rect","filled":false,"stroke":"#444","strokeWidth":1},
"encoding":{"x":{"datum":-2,"type":"quantitative","axis":{"orient":"bottom","offset":-117.3,"labels":false,"ticks":false,"domain":false,"title":"(b)","titleFont":"Liberation Serif","titleFontStyle":"normal","titleFontSize":20,"titleX":655.5,"titleY":108.5,"titleBaseline":"alphabetic","titleAlign":"center"}},"x2":{"datum":2},"y":{"datum":-2,"type":"quantitative","axis":null},"y2":{"datum":2}}}
],"resolve":{"axis":{"x":"independent","y":"independent"},"legend":{"color":"independent","stroke":"independent"}}},
{"layer":[
{"mark":{"type":"rect","binSpacing":0,"filled":false,"strokeWidth":1.4},
"encoding":{
"x":{"field":"x","type":"quantitative","bin":{"step":0.1,"extent":[-2.05,2.05],"nice":false},"scale":{"domain":[-2,2],"range":[946.7,1311.7],"clamp":true},"axis":null},
"y":{"field":"y","type":"quantitative","bin":{"step":0.1,"extent":[-2.05,2.05],"nice":false},"scale":{"domain":[-2,2],"range":[377.7,14],"clamp":true},"axis":null},
"stroke":{"field":"a","type":"quantitative","scale":{"type":"linear","domain":[-0.035,0.072,0.179,0.286,0.393,0.5,0.607,0.714,0.821,0.928,1.035],"range":["#053061","#2166ac","#4393c3","#92c5de","#d1e5f0","#f7f7f7","#fddbc7","#f4a582","#d6604d","#b2182b","#67001f"]},"legend":null}}},
{"mark":{"type":"rect","binSpacing":0},
"encoding":{
"x":{"field":"x","type":"quantitative","bin":{"step":0.1,"extent":[-2.05,2.05],"nice":false},"axis":{"orient":"bottom","offset":-88.3,"values":[-2,-1.5,-1,-0.5,0,0.5,1,1.5,2],"format":".1f","title":"t₂","titleBaseline":"alphabetic","titleY":35}},
"y":{"field":"y","type":"quantitative","bin":{"step":0.1,"extent":[-2.05,2.05],"nice":false},"axis":{"orient":"left","offset":-946.7,"values":[-2,-1.5,-1,-0.5,0,0.5,1,1.5,2],"format":".1f","title":"t₁","titleBaseline":"alphabetic","titleX":-42}},
"color":{"field":"a","type":"quantitative","scale":{"type":"linear","domain":[-0.035,0.072,0.179,0.286,0.393,0.5,0.607,0.714,0.821,0.928,1.035],"range":["#053061","#2166ac","#4393c3","#92c5de","#d1e5f0","#f7f7f7","#fddbc7","#f4a582","#d6604d","#b2182b","#67001f"]},"legend":null}}},
{"data":{"values":[{}]},"mark":{"type":"rect","filled":false,"stroke":"#444","strokeWidth":1},
"encoding":{"x":{"datum":-2,"type":"quantitative","axis":{"orient":"bottom","offset":-88.3,"labels":false,"ticks":false,"domain":false,"title":"(c)","titleFont":"Liberation Serif","titleFontStyle":"normal","titleFontSize":20,"titleX":1098,"titleY":79.3,"titleBaseline":"alphabetic","titleAlign":"center"}},"x2":{"datum":2},"y":{"datum":-2,"type":"quantitative","axis":null},"y2":{"datum":2}}}
],"resolve":{"axis":{"x":"independent","y":"independent"},"legend":{"color":"independent","stroke":"independent"}}}
],
"resolve":{"scale":{"x":"independent","y":"independent","color":"independent","stroke":"independent"},"axis":{"x":"independent","y":"independent"},"legend":{"color":"independent","stroke":"independent"}}
}
